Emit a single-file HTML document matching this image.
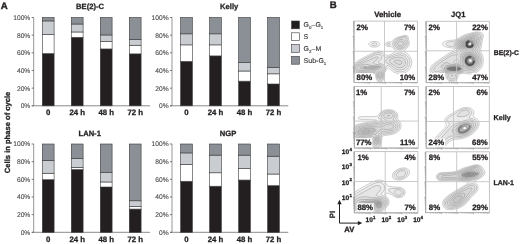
<!DOCTYPE html>
<html><head><meta charset="utf-8"><style>
html,body{margin:0;padding:0;background:#fff;width:520px;height:244px;overflow:hidden}
svg{display:block;will-change:transform}
text{font-family:"Liberation Sans", sans-serif;text-rendering:geometricPrecision}
</style></head><body>
<svg width="520" height="244" viewBox="0 0 520 244">
<defs>
<filter id="bl" x="-50%" y="-50%" width="200%" height="200%"><feGaussianBlur stdDeviation="1.2"/></filter>
<filter id="bl2" x="-50%" y="-50%" width="200%" height="200%"><feGaussianBlur stdDeviation="0.6"/></filter>
<filter id="bl1" x="-50%" y="-50%" width="200%" height="200%"><feGaussianBlur stdDeviation="0.35"/></filter>
</defs>
<line x1="33.7" y1="17.5" x2="33.7" y2="105.8" stroke="#8a8a8a" stroke-width="0.9"/>
<line x1="31.700000000000003" y1="105.8" x2="150.0" y2="105.8" stroke="#8a8a8a" stroke-width="1"/>
<line x1="31.700000000000003" y1="105.80" x2="33.7" y2="105.80" stroke="#666" stroke-width="0.9"/>
<text x="30.300000000000004" y="108.2" font-size="6.7" font-weight="normal" text-anchor="end" fill="#444" stroke="#444" stroke-width="0.1">0%</text>
<line x1="31.700000000000003" y1="88.14" x2="33.7" y2="88.14" stroke="#666" stroke-width="0.9"/>
<text x="30.300000000000004" y="90.54" font-size="6.7" font-weight="normal" text-anchor="end" fill="#444" stroke="#444" stroke-width="0.1">20%</text>
<line x1="31.700000000000003" y1="70.48" x2="33.7" y2="70.48" stroke="#666" stroke-width="0.9"/>
<text x="30.300000000000004" y="72.88" font-size="6.7" font-weight="normal" text-anchor="end" fill="#444" stroke="#444" stroke-width="0.1">40%</text>
<line x1="31.700000000000003" y1="52.82" x2="33.7" y2="52.82" stroke="#666" stroke-width="0.9"/>
<text x="30.300000000000004" y="55.22" font-size="6.7" font-weight="normal" text-anchor="end" fill="#444" stroke="#444" stroke-width="0.1">60%</text>
<line x1="31.700000000000003" y1="35.16" x2="33.7" y2="35.16" stroke="#666" stroke-width="0.9"/>
<text x="30.300000000000004" y="37.559999999999995" font-size="6.7" font-weight="normal" text-anchor="end" fill="#444" stroke="#444" stroke-width="0.1">80%</text>
<line x1="31.700000000000003" y1="17.50" x2="33.7" y2="17.50" stroke="#666" stroke-width="0.9"/>
<text x="30.300000000000004" y="19.9" font-size="6.7" font-weight="normal" text-anchor="end" fill="#444" stroke="#444" stroke-width="0.1">100%</text>
<text x="90.0" y="9.0" font-size="7.6" font-weight="bold" text-anchor="middle" fill="#231f20" stroke="#231f20" stroke-width="0.28" >BE(2)-C</text>
<rect x="42.300000000000004" y="53.53" width="11.8" height="52.27" fill="#231f20" stroke="#3a3a3a" stroke-width="0.6"/>
<rect x="42.300000000000004" y="34.54" width="11.8" height="18.98" fill="#ffffff" stroke="#3a3a3a" stroke-width="0.6"/>
<rect x="42.300000000000004" y="20.94" width="11.8" height="13.60" fill="#c9cdd1" stroke="#3a3a3a" stroke-width="0.6"/>
<rect x="42.300000000000004" y="17.50" width="11.8" height="3.44" fill="#8b9096" stroke="#3a3a3a" stroke-width="0.6"/>
<text x="48.2" y="115.1" font-size="7.8" font-weight="bold" text-anchor="middle" fill="#231f20" stroke="#231f20" stroke-width="0.28" >0</text>
<rect x="71.30000000000001" y="37.28" width="11.8" height="68.52" fill="#231f20" stroke="#3a3a3a" stroke-width="0.6"/>
<rect x="71.30000000000001" y="31.98" width="11.8" height="5.30" fill="#ffffff" stroke="#3a3a3a" stroke-width="0.6"/>
<rect x="71.30000000000001" y="24.03" width="11.8" height="7.95" fill="#c9cdd1" stroke="#3a3a3a" stroke-width="0.6"/>
<rect x="71.30000000000001" y="17.50" width="11.8" height="6.53" fill="#8b9096" stroke="#3a3a3a" stroke-width="0.6"/>
<text x="77.20000000000002" y="115.1" font-size="7.8" font-weight="bold" text-anchor="middle" fill="#231f20" stroke="#231f20" stroke-width="0.28" >24 h</text>
<rect x="100.30000000000001" y="48.93" width="11.8" height="56.87" fill="#231f20" stroke="#3a3a3a" stroke-width="0.6"/>
<rect x="100.30000000000001" y="41.52" width="11.8" height="7.42" fill="#ffffff" stroke="#3a3a3a" stroke-width="0.6"/>
<rect x="100.30000000000001" y="34.98" width="11.8" height="6.53" fill="#c9cdd1" stroke="#3a3a3a" stroke-width="0.6"/>
<rect x="100.30000000000001" y="17.50" width="11.8" height="17.48" fill="#8b9096" stroke="#3a3a3a" stroke-width="0.6"/>
<text x="106.20000000000002" y="115.1" font-size="7.8" font-weight="bold" text-anchor="middle" fill="#231f20" stroke="#231f20" stroke-width="0.28" >48 h</text>
<rect x="129.3" y="53.88" width="11.8" height="51.92" fill="#231f20" stroke="#3a3a3a" stroke-width="0.6"/>
<rect x="129.3" y="45.23" width="11.8" height="8.65" fill="#ffffff" stroke="#3a3a3a" stroke-width="0.6"/>
<rect x="129.3" y="39.31" width="11.8" height="5.92" fill="#c9cdd1" stroke="#3a3a3a" stroke-width="0.6"/>
<rect x="129.3" y="17.50" width="11.8" height="21.81" fill="#8b9096" stroke="#3a3a3a" stroke-width="0.6"/>
<text x="135.20000000000002" y="115.1" font-size="7.8" font-weight="bold" text-anchor="middle" fill="#231f20" stroke="#231f20" stroke-width="0.28" >72 h</text>
<line x1="172.0" y1="17.5" x2="172.0" y2="105.8" stroke="#8a8a8a" stroke-width="0.9"/>
<line x1="170.0" y1="105.8" x2="288.3" y2="105.8" stroke="#8a8a8a" stroke-width="1"/>
<line x1="170.0" y1="105.80" x2="172.0" y2="105.80" stroke="#666" stroke-width="0.9"/>
<text x="168.6" y="108.2" font-size="6.7" font-weight="normal" text-anchor="end" fill="#444" stroke="#444" stroke-width="0.1">0%</text>
<line x1="170.0" y1="88.14" x2="172.0" y2="88.14" stroke="#666" stroke-width="0.9"/>
<text x="168.6" y="90.54" font-size="6.7" font-weight="normal" text-anchor="end" fill="#444" stroke="#444" stroke-width="0.1">20%</text>
<line x1="170.0" y1="70.48" x2="172.0" y2="70.48" stroke="#666" stroke-width="0.9"/>
<text x="168.6" y="72.88" font-size="6.7" font-weight="normal" text-anchor="end" fill="#444" stroke="#444" stroke-width="0.1">40%</text>
<line x1="170.0" y1="52.82" x2="172.0" y2="52.82" stroke="#666" stroke-width="0.9"/>
<text x="168.6" y="55.22" font-size="6.7" font-weight="normal" text-anchor="end" fill="#444" stroke="#444" stroke-width="0.1">60%</text>
<line x1="170.0" y1="35.16" x2="172.0" y2="35.16" stroke="#666" stroke-width="0.9"/>
<text x="168.6" y="37.559999999999995" font-size="6.7" font-weight="normal" text-anchor="end" fill="#444" stroke="#444" stroke-width="0.1">80%</text>
<line x1="170.0" y1="17.50" x2="172.0" y2="17.50" stroke="#666" stroke-width="0.9"/>
<text x="168.6" y="19.9" font-size="6.7" font-weight="normal" text-anchor="end" fill="#444" stroke="#444" stroke-width="0.1">100%</text>
<text x="229.2" y="9.0" font-size="7.6" font-weight="bold" text-anchor="middle" fill="#231f20" stroke="#231f20" stroke-width="0.28" >Kelly</text>
<rect x="180.6" y="61.39" width="11.8" height="44.41" fill="#231f20" stroke="#3a3a3a" stroke-width="0.6"/>
<rect x="180.6" y="44.87" width="11.8" height="16.51" fill="#ffffff" stroke="#3a3a3a" stroke-width="0.6"/>
<rect x="180.6" y="33.84" width="11.8" height="11.04" fill="#c9cdd1" stroke="#3a3a3a" stroke-width="0.6"/>
<rect x="180.6" y="17.50" width="11.8" height="16.34" fill="#8b9096" stroke="#3a3a3a" stroke-width="0.6"/>
<text x="186.5" y="115.1" font-size="7.8" font-weight="bold" text-anchor="middle" fill="#231f20" stroke="#231f20" stroke-width="0.28" >0</text>
<rect x="209.6" y="55.91" width="11.8" height="49.89" fill="#231f20" stroke="#3a3a3a" stroke-width="0.6"/>
<rect x="209.6" y="44.87" width="11.8" height="11.04" fill="#ffffff" stroke="#3a3a3a" stroke-width="0.6"/>
<rect x="209.6" y="33.84" width="11.8" height="11.04" fill="#c9cdd1" stroke="#3a3a3a" stroke-width="0.6"/>
<rect x="209.6" y="17.50" width="11.8" height="16.34" fill="#8b9096" stroke="#3a3a3a" stroke-width="0.6"/>
<text x="215.5" y="115.1" font-size="7.8" font-weight="bold" text-anchor="middle" fill="#231f20" stroke="#231f20" stroke-width="0.28" >24 h</text>
<rect x="238.6" y="81.16" width="11.8" height="24.64" fill="#231f20" stroke="#3a3a3a" stroke-width="0.6"/>
<rect x="238.6" y="71.01" width="11.8" height="10.15" fill="#ffffff" stroke="#3a3a3a" stroke-width="0.6"/>
<rect x="238.6" y="62.53" width="11.8" height="8.48" fill="#c9cdd1" stroke="#3a3a3a" stroke-width="0.6"/>
<rect x="238.6" y="17.50" width="11.8" height="45.03" fill="#8b9096" stroke="#3a3a3a" stroke-width="0.6"/>
<text x="244.5" y="115.1" font-size="7.8" font-weight="bold" text-anchor="middle" fill="#231f20" stroke="#231f20" stroke-width="0.28" >48 h</text>
<rect x="267.6" y="83.99" width="11.8" height="21.81" fill="#231f20" stroke="#3a3a3a" stroke-width="0.6"/>
<rect x="267.6" y="73.84" width="11.8" height="10.15" fill="#ffffff" stroke="#3a3a3a" stroke-width="0.6"/>
<rect x="267.6" y="67.39" width="11.8" height="6.45" fill="#c9cdd1" stroke="#3a3a3a" stroke-width="0.6"/>
<rect x="267.6" y="17.50" width="11.8" height="49.89" fill="#8b9096" stroke="#3a3a3a" stroke-width="0.6"/>
<text x="273.5" y="115.1" font-size="7.8" font-weight="bold" text-anchor="middle" fill="#231f20" stroke="#231f20" stroke-width="0.28" >72 h</text>
<line x1="33.7" y1="144.0" x2="33.7" y2="232.3" stroke="#8a8a8a" stroke-width="0.9"/>
<line x1="31.700000000000003" y1="232.3" x2="150.0" y2="232.3" stroke="#8a8a8a" stroke-width="1"/>
<line x1="31.700000000000003" y1="232.30" x2="33.7" y2="232.30" stroke="#666" stroke-width="0.9"/>
<text x="30.300000000000004" y="234.70000000000002" font-size="6.7" font-weight="normal" text-anchor="end" fill="#444" stroke="#444" stroke-width="0.1">0%</text>
<line x1="31.700000000000003" y1="214.64" x2="33.7" y2="214.64" stroke="#666" stroke-width="0.9"/>
<text x="30.300000000000004" y="217.04000000000002" font-size="6.7" font-weight="normal" text-anchor="end" fill="#444" stroke="#444" stroke-width="0.1">20%</text>
<line x1="31.700000000000003" y1="196.98" x2="33.7" y2="196.98" stroke="#666" stroke-width="0.9"/>
<text x="30.300000000000004" y="199.38000000000002" font-size="6.7" font-weight="normal" text-anchor="end" fill="#444" stroke="#444" stroke-width="0.1">40%</text>
<line x1="31.700000000000003" y1="179.32" x2="33.7" y2="179.32" stroke="#666" stroke-width="0.9"/>
<text x="30.300000000000004" y="181.72" font-size="6.7" font-weight="normal" text-anchor="end" fill="#444" stroke="#444" stroke-width="0.1">60%</text>
<line x1="31.700000000000003" y1="161.66" x2="33.7" y2="161.66" stroke="#666" stroke-width="0.9"/>
<text x="30.300000000000004" y="164.06" font-size="6.7" font-weight="normal" text-anchor="end" fill="#444" stroke="#444" stroke-width="0.1">80%</text>
<line x1="31.700000000000003" y1="144.00" x2="33.7" y2="144.00" stroke="#666" stroke-width="0.9"/>
<text x="30.300000000000004" y="146.4" font-size="6.7" font-weight="normal" text-anchor="end" fill="#444" stroke="#444" stroke-width="0.1">100%</text>
<text x="89.7" y="136.2" font-size="7.6" font-weight="bold" text-anchor="middle" fill="#231f20" stroke="#231f20" stroke-width="0.28" >LAN-1</text>
<rect x="42.300000000000004" y="179.67" width="11.8" height="52.63" fill="#231f20" stroke="#3a3a3a" stroke-width="0.6"/>
<rect x="42.300000000000004" y="173.23" width="11.8" height="6.45" fill="#ffffff" stroke="#3a3a3a" stroke-width="0.6"/>
<rect x="42.300000000000004" y="160.34" width="11.8" height="12.89" fill="#c9cdd1" stroke="#3a3a3a" stroke-width="0.6"/>
<rect x="42.300000000000004" y="144.00" width="11.8" height="16.34" fill="#8b9096" stroke="#3a3a3a" stroke-width="0.6"/>
<text x="48.2" y="241.60000000000002" font-size="7.8" font-weight="bold" text-anchor="middle" fill="#231f20" stroke="#231f20" stroke-width="0.28" >0</text>
<rect x="71.30000000000001" y="169.52" width="11.8" height="62.78" fill="#231f20" stroke="#3a3a3a" stroke-width="0.6"/>
<rect x="71.30000000000001" y="167.31" width="11.8" height="2.21" fill="#ffffff" stroke="#3a3a3a" stroke-width="0.6"/>
<rect x="71.30000000000001" y="158.48" width="11.8" height="8.83" fill="#c9cdd1" stroke="#3a3a3a" stroke-width="0.6"/>
<rect x="71.30000000000001" y="144.00" width="11.8" height="14.48" fill="#8b9096" stroke="#3a3a3a" stroke-width="0.6"/>
<text x="77.20000000000002" y="241.60000000000002" font-size="7.8" font-weight="bold" text-anchor="middle" fill="#231f20" stroke="#231f20" stroke-width="0.28" >24 h</text>
<rect x="100.30000000000001" y="187.00" width="11.8" height="45.30" fill="#231f20" stroke="#3a3a3a" stroke-width="0.6"/>
<rect x="100.30000000000001" y="181.97" width="11.8" height="5.03" fill="#ffffff" stroke="#3a3a3a" stroke-width="0.6"/>
<rect x="100.30000000000001" y="172.70" width="11.8" height="9.27" fill="#c9cdd1" stroke="#3a3a3a" stroke-width="0.6"/>
<rect x="100.30000000000001" y="144.00" width="11.8" height="28.70" fill="#8b9096" stroke="#3a3a3a" stroke-width="0.6"/>
<text x="106.20000000000002" y="241.60000000000002" font-size="7.8" font-weight="bold" text-anchor="middle" fill="#231f20" stroke="#231f20" stroke-width="0.28" >48 h</text>
<rect x="129.3" y="209.08" width="11.8" height="23.22" fill="#231f20" stroke="#3a3a3a" stroke-width="0.6"/>
<rect x="129.3" y="206.43" width="11.8" height="2.65" fill="#ffffff" stroke="#3a3a3a" stroke-width="0.6"/>
<rect x="129.3" y="200.78" width="11.8" height="5.65" fill="#c9cdd1" stroke="#3a3a3a" stroke-width="0.6"/>
<rect x="129.3" y="144.00" width="11.8" height="56.78" fill="#8b9096" stroke="#3a3a3a" stroke-width="0.6"/>
<text x="135.20000000000002" y="241.60000000000002" font-size="7.8" font-weight="bold" text-anchor="middle" fill="#231f20" stroke="#231f20" stroke-width="0.28" >72 h</text>
<line x1="172.0" y1="144.0" x2="172.0" y2="232.3" stroke="#8a8a8a" stroke-width="0.9"/>
<line x1="170.0" y1="232.3" x2="288.3" y2="232.3" stroke="#8a8a8a" stroke-width="1"/>
<line x1="170.0" y1="232.30" x2="172.0" y2="232.30" stroke="#666" stroke-width="0.9"/>
<text x="168.6" y="234.70000000000002" font-size="6.7" font-weight="normal" text-anchor="end" fill="#444" stroke="#444" stroke-width="0.1">0%</text>
<line x1="170.0" y1="214.64" x2="172.0" y2="214.64" stroke="#666" stroke-width="0.9"/>
<text x="168.6" y="217.04000000000002" font-size="6.7" font-weight="normal" text-anchor="end" fill="#444" stroke="#444" stroke-width="0.1">20%</text>
<line x1="170.0" y1="196.98" x2="172.0" y2="196.98" stroke="#666" stroke-width="0.9"/>
<text x="168.6" y="199.38000000000002" font-size="6.7" font-weight="normal" text-anchor="end" fill="#444" stroke="#444" stroke-width="0.1">40%</text>
<line x1="170.0" y1="179.32" x2="172.0" y2="179.32" stroke="#666" stroke-width="0.9"/>
<text x="168.6" y="181.72" font-size="6.7" font-weight="normal" text-anchor="end" fill="#444" stroke="#444" stroke-width="0.1">60%</text>
<line x1="170.0" y1="161.66" x2="172.0" y2="161.66" stroke="#666" stroke-width="0.9"/>
<text x="168.6" y="164.06" font-size="6.7" font-weight="normal" text-anchor="end" fill="#444" stroke="#444" stroke-width="0.1">80%</text>
<line x1="170.0" y1="144.00" x2="172.0" y2="144.00" stroke="#666" stroke-width="0.9"/>
<text x="168.6" y="146.4" font-size="6.7" font-weight="normal" text-anchor="end" fill="#444" stroke="#444" stroke-width="0.1">100%</text>
<text x="228.0" y="136.2" font-size="7.6" font-weight="bold" text-anchor="middle" fill="#231f20" stroke="#231f20" stroke-width="0.28" >NGP</text>
<rect x="180.6" y="181.26" width="11.8" height="51.04" fill="#231f20" stroke="#3a3a3a" stroke-width="0.6"/>
<rect x="180.6" y="164.40" width="11.8" height="16.87" fill="#ffffff" stroke="#3a3a3a" stroke-width="0.6"/>
<rect x="180.6" y="152.92" width="11.8" height="11.48" fill="#c9cdd1" stroke="#3a3a3a" stroke-width="0.6"/>
<rect x="180.6" y="144.00" width="11.8" height="8.92" fill="#8b9096" stroke="#3a3a3a" stroke-width="0.6"/>
<text x="186.5" y="241.60000000000002" font-size="7.8" font-weight="bold" text-anchor="middle" fill="#231f20" stroke="#231f20" stroke-width="0.28" >0</text>
<rect x="209.6" y="186.21" width="11.8" height="46.09" fill="#231f20" stroke="#3a3a3a" stroke-width="0.6"/>
<rect x="209.6" y="172.79" width="11.8" height="13.42" fill="#ffffff" stroke="#3a3a3a" stroke-width="0.6"/>
<rect x="209.6" y="155.13" width="11.8" height="17.66" fill="#c9cdd1" stroke="#3a3a3a" stroke-width="0.6"/>
<rect x="209.6" y="144.00" width="11.8" height="11.13" fill="#8b9096" stroke="#3a3a3a" stroke-width="0.6"/>
<text x="215.5" y="241.60000000000002" font-size="7.8" font-weight="bold" text-anchor="middle" fill="#231f20" stroke="#231f20" stroke-width="0.28" >24 h</text>
<rect x="238.6" y="180.03" width="11.8" height="52.27" fill="#231f20" stroke="#3a3a3a" stroke-width="0.6"/>
<rect x="238.6" y="168.64" width="11.8" height="11.39" fill="#ffffff" stroke="#3a3a3a" stroke-width="0.6"/>
<rect x="238.6" y="155.13" width="11.8" height="13.51" fill="#c9cdd1" stroke="#3a3a3a" stroke-width="0.6"/>
<rect x="238.6" y="144.00" width="11.8" height="11.13" fill="#8b9096" stroke="#3a3a3a" stroke-width="0.6"/>
<text x="244.5" y="241.60000000000002" font-size="7.8" font-weight="bold" text-anchor="middle" fill="#231f20" stroke="#231f20" stroke-width="0.28" >48 h</text>
<rect x="267.6" y="185.68" width="11.8" height="46.62" fill="#231f20" stroke="#3a3a3a" stroke-width="0.6"/>
<rect x="267.6" y="174.02" width="11.8" height="11.66" fill="#ffffff" stroke="#3a3a3a" stroke-width="0.6"/>
<rect x="267.6" y="156.19" width="11.8" height="17.84" fill="#c9cdd1" stroke="#3a3a3a" stroke-width="0.6"/>
<rect x="267.6" y="144.00" width="11.8" height="12.19" fill="#8b9096" stroke="#3a3a3a" stroke-width="0.6"/>
<text x="273.5" y="241.60000000000002" font-size="7.8" font-weight="bold" text-anchor="middle" fill="#231f20" stroke="#231f20" stroke-width="0.28" >72 h</text>
<rect x="291.6" y="21.0" width="7.8" height="7.8" fill="#231f20" stroke="#3a3a3a" stroke-width="0.6"/>
<text x="303.6" y="27.3" font-size="7.0" font-weight="normal" text-anchor="start" fill="#333" stroke="#333" stroke-width="0.12">G<tspan font-size="4.4" dy="2.1">0</tspan><tspan dy="-2.1">–G</tspan><tspan font-size="4.4" dy="2.1">1</tspan></text>
<rect x="291.6" y="32.8" width="7.8" height="7.8" fill="#ffffff" stroke="#3a3a3a" stroke-width="0.6"/>
<text x="303.6" y="39.099999999999994" font-size="7.0" font-weight="normal" text-anchor="start" fill="#333" stroke="#333" stroke-width="0.12">S</text>
<rect x="291.6" y="44.6" width="7.8" height="7.8" fill="#c9cdd1" stroke="#3a3a3a" stroke-width="0.6"/>
<text x="303.6" y="50.9" font-size="7.0" font-weight="normal" text-anchor="start" fill="#333" stroke="#333" stroke-width="0.12">G<tspan font-size="4.4" dy="2.1">2</tspan><tspan dy="-2.1">–M</tspan></text>
<rect x="291.6" y="56.400000000000006" width="7.8" height="7.8" fill="#8b9096" stroke="#3a3a3a" stroke-width="0.6"/>
<text x="303.6" y="62.7" font-size="7.0" font-weight="normal" text-anchor="start" fill="#333" stroke="#333" stroke-width="0.12">Sub-G<tspan font-size="4.4" dy="2.1">1</tspan></text>
<text x="0.7" y="9.0" font-size="9.6" font-weight="bold" text-anchor="start" fill="#231f20" stroke="#231f20" stroke-width="0.4" >A</text>
<text x="329.8" y="8.4" font-size="9.6" font-weight="bold" text-anchor="start" fill="#231f20" stroke="#231f20" stroke-width="0.4" >B</text>
<text x="0" y="0" font-size="7.6" font-weight="bold" text-anchor="middle" fill="#231f20" stroke="#231f20" stroke-width="0.28" transform="translate(9.8,132.4) rotate(-90)">Cells in phase of cycle</text>
<text x="387.7" y="17.3" font-size="7.8" font-weight="bold" text-anchor="middle" fill="#231f20" stroke="#231f20" stroke-width="0.28" >Vehicle</text>
<text x="458.2" y="16.9" font-size="7.6" font-weight="bold" text-anchor="middle" fill="#231f20" stroke="#231f20" stroke-width="0.28" >JQ1</text>
<g id="plot0"><path d="M380.5 82.5 379.4 82.5 378.8 82.4 378.0 81.8 377.2 80.8 376.1 78.6 375.3 74.3 374.5 73.6 372.2 73.5 362.0 74.1 359.0 74.1 356.5 73.7 354.2 72.6 354.0 72.4 354.0 70.3 354.0 63.9 357.2 61.2 360.8 59.0 372.8 53.0 376.8 51.4 379.5 51.1 381.8 51.6 383.2 52.5 385.5 54.9 386.5 55.4 388.5 55.3 391.4 54.1 395.0 51.9 395.6 51.1 395.5 50.6 391.8 46.8 391.0 46.6 388.2 46.7 387.2 46.4 386.5 46.0 385.8 45.1 385.7 44.4 385.8 43.6 386.2 42.9 387.0 42.3 388.0 41.9 390.8 42.0 391.5 41.8 394.5 38.8 395.8 38.0 397.5 37.2 404.5 35.5 406.0 35.5 407.3 35.9 407.9 36.4 408.3 37.1 408.5 39.4 409.4 42.1 409.3 44.1 408.9 45.4 408.0 46.9 406.8 48.2 404.5 50.1 404.1 50.6 404.0 51.1 404.4 51.6 407.2 53.6 408.8 54.9 410.0 56.6 411.0 58.6 411.6 60.9 411.7 63.4 411.3 65.6 410.4 67.8 408.5 70.3 406.0 72.2 403.0 73.4 400.0 73.8 397.2 73.5 394.8 72.6 392.5 71.2 389.2 68.3 388.5 68.0 388.0 68.0 387.2 68.8 384.8 72.6 384.1 77.6 383.3 80.1 382.0 81.8 381.2 82.4 380.5 82.5ZM375.5 47.1 372.8 47.1 370.2 46.3 369.0 45.1 368.7 44.4 368.9 43.6 369.5 42.9 370.5 42.2 372.0 41.7 373.5 41.5 375.2 41.5 376.8 41.7 378.0 42.2 379.1 42.9 379.6 43.4 379.9 44.1 379.8 44.9 379.5 45.4 378.0 46.5 375.5 47.1Z" fill="#5a5a5a" fill-opacity="0.06" stroke="#999" stroke-width="0.45"/>
<path d="M401.5 49.6 399.8 49.8 398.2 49.7 396.8 49.2 395.2 48.3 393.9 47.1 392.9 45.6 392.5 44.4 392.7 43.4 393.3 41.9 394.2 40.6 395.2 39.6 396.8 38.6 398.2 38.0 403.5 36.4 405.0 36.2 406.2 36.4 406.9 36.9 407.3 37.6 407.2 39.6 408.1 42.6 407.9 44.6 406.9 46.4 405.5 47.7 403.5 48.9 401.5 49.6ZM375.5 45.6 374.0 45.7 372.5 45.4 371.7 44.9 371.5 44.1 372.2 43.4 373.2 43.0 374.8 42.9 376.0 43.1 376.8 43.6 377.1 44.4 376.7 45.1 375.5 45.6ZM389.2 45.4 388.2 45.4 387.5 45.0 387.2 44.4 387.5 43.6 388.0 43.2 388.8 43.1 390.0 43.6 390.3 44.1 390.3 44.6 389.9 45.1 389.2 45.4ZM380.0 81.4 379.2 81.2 378.5 80.8 377.4 79.3 376.6 77.3 376.1 73.8 375.8 73.2 375.2 72.8 374.2 72.6 372.8 72.6 359.8 73.2 357.2 73.0 355.2 72.2 354.0 71.1 354.0 65.4 356.2 63.3 361.0 60.3 373.5 54.0 375.5 53.2 377.5 52.6 379.8 52.6 381.8 53.3 383.0 54.5 384.5 56.9 385.2 57.3 386.8 57.1 389.6 56.4 396.5 53.5 399.5 52.9 401.5 53.0 403.8 53.7 405.8 54.8 407.3 56.1 408.5 57.6 409.3 59.4 409.8 61.1 409.9 62.9 409.6 64.6 409.0 66.3 408.2 67.8 406.8 69.3 405.0 70.7 402.8 71.6 400.5 72.0 398.0 71.8 396.0 71.2 394.2 70.2 390.7 67.1 389.5 66.3 388.0 65.7 387.0 65.6 386.5 66.1 385.7 69.1 383.9 72.1 383.5 76.6 382.9 78.8 382.2 80.0 381.5 80.8 380.8 81.2 380.0 81.4Z" fill="#5a5a5a" fill-opacity="0.05" stroke="#888" stroke-width="0.45"/>
<path d="M401.2 48.4 399.8 48.5 398.2 48.3 396.8 47.7 395.8 47.1 394.9 46.1 394.4 45.1 394.2 43.9 394.4 42.6 395.6 40.9 397.5 39.4 403.5 37.3 404.5 37.2 405.2 37.3 405.9 37.9 405.8 39.9 406.7 42.4 406.8 43.4 406.6 44.4 405.7 45.9 404.5 47.0 403.0 47.8 401.2 48.4ZM380.2 79.9 379.0 79.6 378.0 78.3 377.3 76.6 376.9 73.1 376.5 72.3 376.0 72.0 375.0 71.7 373.2 71.7 360.8 72.4 357.5 72.1 355.5 71.1 354.4 69.8 354.0 68.3 354.5 66.6 355.8 65.0 358.2 63.3 373.5 55.6 375.8 54.7 377.5 54.3 379.0 54.2 380.2 54.6 381.0 55.2 381.6 56.1 381.8 56.9 381.7 57.9 381.0 59.4 378.5 61.9 378.3 62.6 378.9 63.1 382.0 64.0 383.5 64.7 384.5 65.8 384.8 67.3 384.5 68.8 383.0 71.8 382.8 75.6 382.4 77.6 381.5 79.1 381.0 79.6 380.2 79.9ZM401.5 69.9 399.8 70.0 398.2 69.8 396.8 69.4 395.2 68.6 391.5 65.6 387.8 63.6 386.7 62.9 386.1 62.1 385.8 61.4 385.8 60.6 386.1 59.9 386.8 59.1 388.2 58.3 395.5 55.8 397.8 55.1 399.5 54.9 401.2 55.0 403.0 55.5 404.5 56.3 406.2 57.9 407.3 59.9 407.8 61.9 407.7 64.1 406.9 66.1 405.5 67.9 403.8 69.1 401.5 69.9Z" fill="#5a5a5a" fill-opacity="0.05" stroke="#888" stroke-width="0.45"/>
<path d="M401.2 47.1 399.0 47.2 397.1 46.4 396.3 45.6 395.9 44.9 395.7 44.1 395.8 43.1 396.6 41.6 398.2 40.4 400.5 39.6 403.0 39.3 403.8 39.9 405.0 41.9 405.3 42.9 405.2 43.9 404.6 45.1 403.8 46.0 402.5 46.8 401.2 47.1ZM380.2 78.1 379.8 78.1 379.2 77.8 378.6 76.8 378.2 75.3 378.1 72.3 377.7 71.6 377.0 71.0 375.8 70.7 374.2 70.6 361.8 71.4 358.5 71.2 356.8 70.6 355.8 69.7 355.3 68.3 355.6 67.1 356.0 66.3 357.0 65.4 359.8 63.9 367.2 60.9 375.0 57.4 376.8 56.9 377.8 57.0 378.2 57.6 378.0 58.6 377.0 59.6 374.0 61.9 373.4 62.6 373.4 63.1 374.1 63.9 375.2 64.2 381.2 65.1 382.5 65.8 383.2 66.6 383.4 67.3 383.3 68.3 382.0 70.8 381.7 71.8 381.8 74.8 381.6 76.3 381.0 77.6 380.2 78.1ZM401.2 67.6 399.0 67.7 397.8 67.4 396.5 66.8 389.8 62.4 389.1 61.4 389.1 60.6 389.9 59.9 391.5 59.0 394.2 58.0 396.8 57.4 400.0 57.1 401.5 57.4 402.8 57.9 404.0 58.9 405.0 60.3 405.4 61.9 405.4 63.4 404.9 64.8 404.0 66.1 402.8 67.1 401.2 67.6Z" fill="#5a5a5a" fill-opacity="0.05" stroke="#888" stroke-width="0.45"/>
<path d="M401.5 45.6 400.5 45.8 399.5 45.8 398.8 45.5 398.0 45.0 397.6 44.4 397.5 43.6 397.7 42.9 398.3 42.1 399.5 41.4 400.8 41.1 402.0 41.3 403.0 42.0 403.5 43.1 403.3 44.1 402.5 45.1 401.5 45.6ZM400.5 64.4 399.8 64.6 398.8 64.5 396.8 63.7 394.8 62.3 394.3 61.6 394.3 61.1 395.3 60.4 397.0 60.0 399.0 60.0 400.5 60.4 401.5 61.2 402.0 62.4 401.6 63.6 400.5 64.4ZM361.8 70.4 359.5 70.3 358.0 69.8 357.0 68.8 356.9 68.3 357.0 67.6 357.8 66.5 359.2 65.6 361.5 64.8 363.8 64.3 366.5 64.3 372.8 65.8 379.8 66.3 381.0 66.8 381.5 67.6 381.5 68.3 381.1 69.1 380.5 69.7 379.8 70.1 376.8 69.4 374.8 69.3 361.8 70.4Z" fill="#5a5a5a" fill-opacity="0.05" stroke="#888" stroke-width="0.45"/>
<path d="M363.8 68.6 362.0 68.8 360.8 68.7 359.9 68.3 359.7 67.8 360.5 67.1 362.5 66.5 364.5 66.6 365.4 66.8 366.1 67.3 366.0 67.8 365.6 68.1 363.8 68.6Z" fill="#5a5a5a" fill-opacity="0.05" stroke="#888" stroke-width="0.45"/>
<ellipse cx="372" cy="67.5" rx="9" ry="1.8" transform="rotate(-3 372 67.5)" fill="#8a8a8a" fill-opacity="0.55" stroke="none" stroke-width="0.45" filter="url(#bl2)"/>
<ellipse cx="380" cy="75" rx="2.5" ry="4" transform="rotate(0 380 75)" fill="#aaa" fill-opacity="0.5" stroke="none" stroke-width="0.45" filter="url(#bl2)"/></g>
<rect x="354" y="21.1" width="63.39999999999998" height="61.4" fill="none" stroke="#bdbdbd" stroke-width="0.9"/>
<line x1="354" y1="21.1" x2="354" y2="82.5" stroke="#a5a5a5" stroke-width="0.9"/>
<line x1="354" y1="82.5" x2="417.4" y2="82.5" stroke="#b0b0b0" stroke-width="0.9"/>
<path d="M353.0 77.88H354.0M358.77 82.5V83.5M353.0 75.18H354.0M361.56 82.5V83.5M353.0 73.26H354.0M363.54 82.5V83.5M353.0 71.77H354.0M365.08 82.5V83.5M353.0 70.56H354.0M366.33 82.5V83.5M353.0 69.53H354.0M367.39 82.5V83.5M353.0 68.64H354.0M368.31 82.5V83.5M353.0 67.85H354.0M369.12 82.5V83.5M352.4 67.15H354.0M369.85 82.5V84.1M353.0 62.53H354.0M374.62 82.5V83.5M353.0 59.83H354.0M377.41 82.5V83.5M353.0 57.91H354.0M379.39 82.5V83.5M353.0 56.42H354.0M380.93 82.5V83.5M353.0 55.21H354.0M382.18 82.5V83.5M353.0 54.18H354.0M383.24 82.5V83.5M353.0 53.29H354.0M384.16 82.5V83.5M353.0 52.50H354.0M384.97 82.5V83.5M352.4 51.80H354.0M385.70 82.5V84.1M353.0 47.18H354.0M390.47 82.5V83.5M353.0 44.48H354.0M393.26 82.5V83.5M353.0 42.56H354.0M395.24 82.5V83.5M353.0 41.07H354.0M396.78 82.5V83.5M353.0 39.86H354.0M398.03 82.5V83.5M353.0 38.83H354.0M399.09 82.5V83.5M353.0 37.94H354.0M400.01 82.5V83.5M353.0 37.15H354.0M400.82 82.5V83.5M352.4 36.45H354.0M401.55 82.5V84.1M353.0 31.83H354.0M406.32 82.5V83.5M353.0 29.13H354.0M409.11 82.5V83.5M353.0 27.21H354.0M411.09 82.5V83.5M353.0 25.72H354.0M412.63 82.5V83.5M353.0 24.51H354.0M413.88 82.5V83.5M353.0 23.48H354.0M414.94 82.5V83.5M353.0 22.59H354.0M415.86 82.5V83.5M353.0 21.80H354.0M416.67 82.5V83.5" stroke="#9a9a9a" stroke-width="0.6"/>
<line x1="384.5" y1="21.1" x2="384.5" y2="82.5" stroke="#c4c4c4" stroke-width="0.9"/>
<line x1="354" y1="51.3" x2="417.4" y2="51.3" stroke="#c4c4c4" stroke-width="0.9"/>
<rect x="355.8" y="22.9" width="12.8" height="8.2" fill="#fff"/>
<rect x="403.3" y="22.9" width="12.8" height="8.2" fill="#fff"/>
<rect x="355.8" y="73.0" width="17.2" height="8.2" fill="#fff"/>
<rect x="398.9" y="73.0" width="17.2" height="8.2" fill="#fff"/>
<text x="356.6" y="29.5" font-size="7.8" font-weight="bold" text-anchor="start" fill="#231f20" stroke="#231f20" stroke-width="0.28" >2%</text>
<text x="415.3" y="29.5" font-size="7.8" font-weight="bold" text-anchor="end" fill="#231f20" stroke="#231f20" stroke-width="0.28" >7%</text>
<text x="356.6" y="79.6" font-size="7.8" font-weight="bold" text-anchor="start" fill="#231f20" stroke="#231f20" stroke-width="0.28" >80%</text>
<text x="415.3" y="79.6" font-size="7.8" font-weight="bold" text-anchor="end" fill="#231f20" stroke="#231f20" stroke-width="0.28" >10%</text>
<g id="plot1"><path d="M453.4 81.8 452.2 82.0 450.7 81.9 449.4 81.4 448.2 80.6 447.4 79.8 446.6 78.5 445.4 75.0 444.7 74.3 443.7 73.8 442.7 73.5 441.9 73.6 437.4 75.3 435.9 75.5 434.4 75.4 432.9 74.9 431.7 74.1 430.8 73.0 430.1 71.5 430.0 69.5 430.5 67.5 431.6 65.8 433.4 63.9 436.7 61.5 447.9 53.9 450.9 52.2 454.4 50.8 454.9 50.3 454.9 49.8 454.5 49.3 452.9 48.3 451.7 47.9 447.2 47.3 444.2 46.2 443.2 45.5 442.7 44.8 442.5 43.8 442.8 43.0 444.1 41.8 446.4 40.9 449.2 40.4 453.7 40.1 455.7 39.6 458.9 38.0 463.4 35.3 466.9 34.0 474.2 32.2 476.4 31.8 479.2 31.9 481.3 32.5 482.2 33.2 482.9 34.0 483.3 35.0 483.4 36.0 483.2 37.5 482.1 41.0 481.7 45.5 480.6 49.8 480.8 51.3 482.8 56.0 483.3 59.5 483.3 61.5 483.1 63.5 482.6 65.3 481.7 67.3 480.3 69.3 478.4 71.1 476.4 72.5 474.2 73.5 471.9 74.0 469.7 74.1 463.7 73.2 460.6 73.8 459.1 74.3 458.4 75.0 457.7 77.8 456.8 79.5 455.4 80.9 453.4 81.8Z" fill="#5a5a5a" fill-opacity="0.06" stroke="#999" stroke-width="0.45"/>
<path d="M453.2 80.6 452.2 80.7 450.9 80.6 449.9 80.3 448.9 79.6 448.2 78.8 447.6 77.8 447.0 75.3 446.6 74.5 445.7 73.8 443.4 72.6 442.4 72.2 441.4 72.2 437.7 73.7 436.4 73.9 435.2 73.9 433.9 73.5 432.9 72.9 432.2 72.0 431.7 70.8 431.7 69.0 432.4 67.3 433.8 65.5 435.9 63.7 449.7 54.4 452.7 53.1 456.9 52.2 457.7 51.8 458.1 51.3 458.2 50.8 457.9 50.3 453.7 47.1 452.4 46.6 448.9 46.1 447.2 45.5 446.0 44.5 445.8 44.0 445.9 43.5 446.7 42.7 448.2 42.1 449.9 41.8 453.2 41.5 454.7 41.1 459.6 38.8 464.2 36.2 467.4 35.0 473.2 33.4 475.7 32.9 478.2 32.8 480.2 33.4 481.4 34.6 481.8 35.3 482.0 36.3 481.8 37.8 480.8 41.3 480.3 45.5 478.9 50.0 479.2 51.5 481.1 55.8 481.8 59.3 481.9 61.3 481.6 63.0 481.1 64.8 480.3 66.5 479.2 68.3 477.4 70.0 475.7 71.2 473.4 72.1 471.7 72.5 469.7 72.6 464.4 71.9 457.8 73.8 457.1 74.5 456.6 77.3 455.9 78.6 454.7 79.9 453.2 80.6Z" fill="#5a5a5a" fill-opacity="0.075" stroke="#888" stroke-width="0.45"/>
<path d="M452.9 79.1 451.4 79.2 450.0 78.5 449.0 77.3 448.5 74.8 448.0 74.0 442.2 70.7 440.9 70.6 438.2 71.6 436.9 71.9 435.9 71.8 434.9 71.5 434.2 70.8 433.9 70.0 433.9 69.0 434.4 67.8 435.5 66.3 437.4 64.7 449.4 56.5 451.2 55.6 452.9 55.0 457.4 54.7 458.4 54.1 460.0 52.5 460.8 51.3 460.9 50.8 460.6 50.3 456.3 47.8 454.8 46.3 453.9 44.8 453.8 44.0 454.0 43.5 455.6 42.0 457.4 40.9 464.4 37.3 467.9 36.0 473.2 34.4 475.4 33.9 477.4 33.9 479.2 34.5 479.9 35.0 480.3 35.8 480.5 37.5 479.4 41.2 478.9 45.5 477.3 49.3 477.1 50.3 477.4 51.5 479.5 55.5 480.3 58.8 480.4 60.8 480.1 62.8 479.6 64.5 478.9 66.0 477.8 67.5 476.4 68.9 474.9 69.9 473.2 70.6 471.4 71.0 469.7 71.1 465.7 70.5 464.7 70.5 461.2 72.0 456.3 73.3 455.7 73.8 455.4 74.3 455.2 76.3 454.8 77.5 454.0 78.5 452.9 79.1ZM456.9 63.3 458.4 62.8 458.9 62.0 458.9 61.3 458.5 60.3 457.9 59.7 457.4 59.5 456.4 59.8 455.2 60.6 453.9 61.8 453.5 62.5 453.8 63.0 454.5 63.3 456.9 63.3Z" fill="#5a5a5a" fill-opacity="0.075" stroke="#888" stroke-width="0.45"/>
<path d="M451.9 74.1 446.4 72.2 444.9 71.4 443.6 70.0 442.2 67.9 441.2 66.8 441.1 66.3 441.8 65.3 443.3 64.0 444.9 63.0 446.7 62.4 447.4 62.5 448.3 63.3 449.2 63.8 452.4 64.4 455.2 64.4 458.2 64.2 459.9 63.8 460.7 63.3 460.9 62.0 460.2 57.5 460.3 55.8 461.1 54.0 463.1 51.3 463.3 50.3 462.4 49.4 458.4 48.0 456.8 46.8 456.1 45.8 455.8 45.0 455.8 44.0 456.1 43.3 457.1 42.3 458.4 41.4 467.7 37.2 474.4 35.2 476.4 35.1 477.9 35.6 478.7 36.4 478.9 37.5 478.1 41.3 477.7 44.5 477.1 46.3 475.3 49.3 475.0 50.3 475.3 51.5 477.8 55.3 478.4 56.8 478.7 58.5 478.9 60.5 478.7 62.5 478.1 64.3 477.3 65.8 476.2 67.0 475.2 67.9 472.7 69.2 471.2 69.5 469.7 69.6 468.2 69.4 465.7 68.8 464.7 68.8 460.9 71.2 459.4 71.7 455.2 72.5 453.8 73.0 451.9 74.1ZM452.2 76.2 451.7 76.2 451.5 75.8 451.7 75.0 451.9 74.9 452.5 75.5 452.2 76.2Z" fill="#5a5a5a" fill-opacity="0.075" stroke="#888" stroke-width="0.45"/>
<path d="M452.2 72.1 450.4 72.1 448.4 71.9 446.9 71.5 445.9 71.0 445.0 70.0 444.5 69.0 444.4 68.0 444.7 67.0 445.9 65.9 448.2 65.4 459.2 65.1 463.0 65.5 463.1 64.5 462.1 58.3 462.2 55.8 462.6 54.8 463.2 53.8 465.9 51.3 466.4 50.5 466.2 49.8 465.1 49.0 459.7 47.4 458.2 46.6 457.5 45.8 457.2 45.0 457.2 44.3 457.5 43.5 458.5 42.5 459.9 41.7 468.4 38.1 473.9 36.6 475.4 36.6 476.4 36.9 476.9 37.5 477.1 38.5 476.1 45.0 475.0 47.0 472.6 49.5 472.2 50.3 472.6 51.3 474.7 53.4 475.8 54.8 477.0 57.5 477.4 59.5 477.3 61.5 476.9 63.3 475.9 65.0 474.8 66.3 473.4 67.2 471.9 67.8 470.4 68.1 468.9 68.0 467.7 67.7 463.4 66.0 462.5 68.8 461.7 69.7 460.7 70.4 458.4 71.1 452.2 72.1Z" fill="#5a5a5a" fill-opacity="0.075" stroke="#888" stroke-width="0.45"/>
<path d="M470.2 48.3 467.7 48.2 460.7 46.6 459.7 46.2 459.0 45.5 458.7 45.0 458.7 44.3 459.4 43.3 460.4 42.6 465.2 40.5 471.2 38.5 472.9 38.3 474.2 38.4 474.9 39.0 475.1 40.0 475.0 43.3 474.5 45.0 473.7 46.3 472.7 47.3 471.4 48.0 470.2 48.3ZM470.2 66.6 468.9 66.5 467.7 66.1 466.7 65.5 465.7 64.7 465.0 63.8 464.4 62.5 463.8 59.5 463.7 56.8 464.0 55.8 464.5 54.8 465.2 53.9 466.2 53.2 467.4 52.6 468.7 52.4 469.9 52.4 471.2 52.8 472.4 53.4 473.5 54.3 474.4 55.3 475.1 56.5 475.8 59.3 475.9 60.8 475.7 62.0 475.2 63.3 474.6 64.3 473.7 65.2 472.7 65.9 471.4 66.4 470.2 66.6ZM452.7 71.1 449.4 71.1 447.2 70.6 446.3 70.0 445.8 69.3 445.7 68.5 445.9 67.8 446.9 66.8 448.4 66.4 457.2 65.9 459.9 66.2 460.7 66.5 461.3 67.3 461.4 68.0 461.1 68.8 460.4 69.5 459.7 69.9 457.7 70.5 452.7 71.1Z" fill="#5a5a5a" fill-opacity="0.075" stroke="#888" stroke-width="0.45"/>
<path d="M469.9 46.8 466.9 46.8 462.7 46.1 460.9 45.3 460.6 44.8 460.6 44.3 460.9 43.7 461.8 43.0 464.7 41.7 469.7 40.2 471.2 40.1 472.2 40.2 472.9 40.7 473.3 41.5 473.5 43.0 473.2 44.3 472.7 45.2 471.9 46.0 470.9 46.5 469.9 46.8ZM471.2 64.8 469.4 65.0 467.7 64.3 466.4 63.0 465.6 61.3 465.2 58.8 465.4 56.5 466.4 55.0 467.9 54.2 469.9 54.1 471.7 54.7 473.1 56.0 474.1 58.0 474.4 60.3 474.0 62.3 472.9 63.8 471.2 64.8ZM453.9 70.1 450.7 70.3 448.7 70.1 447.5 69.5 447.1 69.0 447.1 68.5 447.3 68.0 448.0 67.5 450.7 67.1 457.9 66.8 459.2 67.1 459.9 67.8 459.7 68.6 458.7 69.3 457.2 69.7 453.9 70.1Z" fill="#5a5a5a" fill-opacity="0.075" stroke="#888" stroke-width="0.45"/>
<path d="M469.2 45.6 466.9 45.7 464.7 45.5 463.3 45.0 462.9 44.7 462.8 44.3 463.0 43.8 463.6 43.3 465.4 42.5 468.9 41.7 470.7 41.8 471.2 42.1 471.6 42.8 471.5 44.0 470.6 45.0 469.2 45.6ZM470.4 63.3 469.2 63.3 468.2 62.7 467.4 61.8 466.9 60.5 466.7 58.8 466.9 57.3 467.5 56.3 468.7 55.6 469.9 55.6 471.2 56.2 472.2 57.3 472.8 58.8 472.9 60.3 472.5 61.8 471.7 62.8 470.4 63.3ZM452.2 69.1 450.4 69.1 449.6 68.8 449.9 68.4 451.2 68.2 455.7 68.1 456.7 68.3 456.2 68.6 452.2 69.1Z" fill="#5a5a5a" fill-opacity="0.075" stroke="#888" stroke-width="0.45"/>
<path d="M467.4 44.3 466.2 44.4 465.7 44.0 466.5 43.5 468.4 43.5 468.5 43.8 468.3 44.0 467.4 44.3ZM470.4 61.6 469.7 61.7 469.2 61.5 468.7 61.0 468.3 60.3 468.2 58.5 468.6 57.8 469.2 57.4 469.7 57.3 470.4 57.6 470.9 58.1 471.4 59.0 471.4 60.5 470.9 61.3 470.4 61.6Z" fill="#5a5a5a" fill-opacity="0.075" stroke="#888" stroke-width="0.45"/>
<ellipse cx="469.6" cy="44.2" rx="4.2" ry="4.0" transform="rotate(0 469.6 44.2)" fill="#777" fill-opacity="0.3" stroke="none" stroke-width="0.45" filter="url(#bl)"/>
<ellipse cx="469.6" cy="44.2" rx="3.0" ry="2.8" transform="rotate(0 469.6 44.2)" fill="none" fill-opacity="1" stroke="#888" stroke-width="1.26" filter="url(#bl2)"/>
<ellipse cx="469.6" cy="44.2" rx="3.0" ry="2.8" transform="rotate(0 469.6 44.2)" fill="none" fill-opacity="1" stroke="#4a4a4a" stroke-width="2.1" stroke-dasharray="13.12 5.10" filter="url(#bl2)"/>
<ellipse cx="470.0" cy="44.0" rx="1.1" ry="0.9900000000000001" transform="rotate(0 470.0 44.0)" fill="#fff" fill-opacity="0.9" stroke="none" stroke-width="0.45" filter="url(#bl1)"/>
<ellipse cx="470" cy="60.8" rx="5.2" ry="5.2" transform="rotate(0 470 60.8)" fill="#777" fill-opacity="0.3" stroke="none" stroke-width="0.45" filter="url(#bl)"/>
<ellipse cx="470" cy="60.8" rx="4.0" ry="4.0" transform="rotate(0 470 60.8)" fill="none" fill-opacity="1" stroke="#888" stroke-width="1.38" filter="url(#bl2)"/>
<ellipse cx="470" cy="60.8" rx="4.0" ry="4.0" transform="rotate(0 470 60.8)" fill="none" fill-opacity="1" stroke="#555" stroke-width="2.3" stroke-dasharray="19.60 5.53" filter="url(#bl2)"/>
<ellipse cx="470.4" cy="60.599999999999994" rx="1.5" ry="1.35" transform="rotate(0 470.4 60.599999999999994)" fill="#fff" fill-opacity="0.9" stroke="none" stroke-width="0.45" filter="url(#bl1)"/>
<ellipse cx="454" cy="68.8" rx="7.5" ry="2.2" transform="rotate(0 454 68.8)" fill="#666" fill-opacity="0.75" stroke="none" stroke-width="0.45" filter="url(#bl2)"/></g>
<rect x="426.2" y="21.3" width="63.10000000000002" height="61.3" fill="none" stroke="#bdbdbd" stroke-width="0.9"/>
<line x1="426.2" y1="21.3" x2="426.2" y2="82.6" stroke="#a5a5a5" stroke-width="0.9"/>
<line x1="426.2" y1="82.6" x2="489.3" y2="82.6" stroke="#b0b0b0" stroke-width="0.9"/>
<path d="M425.2 77.99H426.2M430.95 82.6V83.6M425.2 75.29H426.2M433.73 82.6V83.6M425.2 73.37H426.2M435.70 82.6V83.6M425.2 71.89H426.2M437.23 82.6V83.6M425.2 70.67H426.2M438.48 82.6V83.6M425.2 69.65H426.2M439.53 82.6V83.6M425.2 68.76H426.2M440.45 82.6V83.6M425.2 67.98H426.2M441.25 82.6V83.6M424.6 67.27H426.2M441.98 82.6V84.2M425.2 62.66H426.2M446.72 82.6V83.6M425.2 59.96H426.2M449.50 82.6V83.6M425.2 58.05H426.2M451.47 82.6V83.6M425.2 56.56H426.2M453.00 82.6V83.6M425.2 55.35H426.2M454.25 82.6V83.6M425.2 54.32H426.2M455.31 82.6V83.6M425.2 53.44H426.2M456.22 82.6V83.6M425.2 52.65H426.2M457.03 82.6V83.6M424.6 51.95H426.2M457.75 82.6V84.2M425.2 47.34H426.2M462.50 82.6V83.6M425.2 44.64H426.2M465.28 82.6V83.6M425.2 42.72H426.2M467.25 82.6V83.6M425.2 41.24H426.2M468.78 82.6V83.6M425.2 40.02H426.2M470.03 82.6V83.6M425.2 39.00H426.2M471.08 82.6V83.6M425.2 38.11H426.2M472.00 82.6V83.6M425.2 37.33H426.2M472.80 82.6V83.6M424.6 36.62H426.2M473.52 82.6V84.2M425.2 32.01H426.2M478.27 82.6V83.6M425.2 29.31H426.2M481.05 82.6V83.6M425.2 27.40H426.2M483.02 82.6V83.6M425.2 25.91H426.2M484.55 82.6V83.6M425.2 24.70H426.2M485.80 82.6V83.6M425.2 23.67H426.2M486.86 82.6V83.6M425.2 22.79H426.2M487.77 82.6V83.6M425.2 22.00H426.2M488.58 82.6V83.6" stroke="#9a9a9a" stroke-width="0.6"/>
<line x1="456.6" y1="21.3" x2="456.6" y2="82.6" stroke="#c4c4c4" stroke-width="0.9"/>
<line x1="426.2" y1="50.8" x2="489.3" y2="50.8" stroke="#c4c4c4" stroke-width="0.9"/>
<rect x="427.8" y="23.0" width="12.8" height="8.2" fill="#fff"/>
<rect x="471.5" y="23.0" width="17.2" height="8.2" fill="#fff"/>
<rect x="427.8" y="73.0" width="17.2" height="8.2" fill="#fff"/>
<rect x="471.5" y="73.0" width="17.2" height="8.2" fill="#fff"/>
<text x="428.6" y="29.6" font-size="7.8" font-weight="bold" text-anchor="start" fill="#231f20" stroke="#231f20" stroke-width="0.28" >2%</text>
<text x="487.9" y="29.6" font-size="7.8" font-weight="bold" text-anchor="end" fill="#231f20" stroke="#231f20" stroke-width="0.28" >22%</text>
<text x="428.6" y="79.6" font-size="7.8" font-weight="bold" text-anchor="start" fill="#231f20" stroke="#231f20" stroke-width="0.28" >28%</text>
<text x="487.9" y="79.6" font-size="7.8" font-weight="bold" text-anchor="end" fill="#231f20" stroke="#231f20" stroke-width="0.28" >47%</text>
<g id="plot2"><path d="M378.8 148.0 374.2 148.0 373.3 147.0 372.6 145.8 371.1 141.2 370.3 140.5 369.1 140.5 364.6 141.1 360.6 141.4 357.3 141.4 354.3 140.9 354.3 133.2 354.3 125.6 357.6 124.4 361.3 123.4 366.3 122.4 374.0 121.2 376.1 120.8 376.5 120.5 376.3 120.2 375.4 120.0 373.1 119.8 359.6 119.3 358.6 118.9 358.0 118.2 358.2 117.5 359.1 116.9 360.8 116.6 373.3 116.6 376.3 116.4 377.6 116.0 378.2 115.5 379.7 113.0 380.8 111.9 382.1 111.1 383.8 110.3 386.1 109.8 388.6 109.6 391.1 109.8 393.3 110.4 394.8 111.1 396.0 112.0 396.9 113.0 397.5 114.0 397.8 115.5 397.6 118.2 397.7 119.0 400.1 122.2 401.0 124.2 401.1 126.0 400.7 128.0 400.0 129.5 398.7 131.0 397.1 132.4 395.3 133.3 392.1 134.5 384.6 135.5 383.3 135.9 382.6 136.3 382.1 136.9 381.8 137.8 381.4 142.0 380.7 144.8 380.0 146.5 378.8 148.0Z" fill="#5a5a5a" fill-opacity="0.06" stroke="#999" stroke-width="0.45"/>
<path d="M377.1 147.5 376.1 147.6 375.3 147.3 373.9 146.0 372.9 144.0 371.8 140.0 371.0 139.2 369.8 139.2 364.8 140.0 360.6 140.2 357.3 140.1 354.3 139.5 354.3 133.2 354.3 127.0 358.1 125.4 363.1 124.1 368.6 123.2 377.6 122.2 381.1 121.3 381.9 120.8 382.1 120.2 382.0 120.0 381.2 119.5 378.7 118.5 378.2 118.0 378.4 117.5 379.6 116.1 380.7 113.8 381.8 112.6 384.3 111.3 387.3 110.7 390.6 110.8 393.3 111.6 395.1 112.8 395.7 113.5 396.2 114.5 396.4 116.2 395.8 119.2 396.2 120.0 398.3 122.2 399.2 123.8 399.6 125.8 399.1 128.0 398.4 129.2 397.3 130.5 395.8 131.6 394.1 132.5 390.3 133.6 383.6 134.4 382.5 134.8 381.7 135.2 381.1 136.0 380.9 136.8 380.6 141.5 380.0 144.2 379.4 145.5 378.7 146.5 377.8 147.2 377.1 147.5Z" fill="#5a5a5a" fill-opacity="0.05" stroke="#888" stroke-width="0.45"/>
<path d="M376.6 146.0 375.3 145.6 374.1 144.2 373.5 142.5 372.7 139.0 372.3 138.3 371.8 137.9 370.6 137.8 364.8 138.8 360.6 139.0 357.1 138.8 354.3 138.0 354.3 133.2 354.3 128.5 357.6 126.8 362.6 125.4 368.3 124.3 379.1 123.3 381.6 122.7 384.4 121.8 385.9 121.0 386.4 120.5 386.4 120.2 385.9 119.8 382.5 118.0 381.6 117.2 381.4 116.5 381.4 115.8 381.7 114.8 382.2 114.0 384.1 112.7 386.8 111.8 389.8 111.8 392.6 112.5 394.2 113.8 394.7 114.5 395.0 115.5 394.7 117.0 393.2 119.2 393.2 120.0 396.2 122.2 397.4 123.8 397.8 124.8 397.9 125.8 397.5 127.8 396.7 129.0 395.7 130.0 394.3 130.9 392.8 131.6 389.8 132.4 383.3 133.1 381.8 133.5 380.8 134.1 380.1 135.0 379.8 136.0 379.8 140.5 379.3 143.2 378.7 144.5 378.1 145.3 377.3 145.8 376.6 146.0Z" fill="#5a5a5a" fill-opacity="0.05" stroke="#888" stroke-width="0.45"/>
<path d="M390.1 118.3 387.6 118.3 385.0 117.5 384.2 117.0 383.6 116.2 383.5 115.8 383.7 115.0 384.3 114.2 385.0 113.8 387.1 113.1 389.6 113.0 391.6 113.6 392.3 114.1 392.9 114.8 393.2 115.5 393.1 116.2 392.7 117.0 392.1 117.5 390.1 118.3ZM377.1 144.1 376.3 144.2 375.8 144.0 374.8 142.9 374.2 141.2 373.7 137.5 373.3 136.8 372.8 136.4 371.3 136.3 365.8 137.4 361.3 137.8 357.6 137.4 355.0 136.5 354.3 136.0 354.3 130.4 356.0 129.0 358.3 127.8 361.6 126.8 365.6 125.9 370.1 125.3 379.8 124.7 382.3 124.1 387.6 122.4 389.8 122.0 392.6 122.2 393.8 122.7 394.8 123.3 395.9 124.8 396.1 125.5 396.0 126.5 395.3 128.1 393.8 129.5 392.1 130.4 390.1 130.9 383.8 131.4 382.1 131.7 380.6 132.3 379.3 133.3 378.7 134.2 378.5 135.2 378.9 139.2 378.7 141.5 378.1 143.1 377.1 144.1Z" fill="#5a5a5a" fill-opacity="0.05" stroke="#888" stroke-width="0.45"/>
<path d="M389.1 116.0 387.9 116.0 387.6 115.8 387.5 115.5 388.1 115.2 389.1 115.2 389.4 115.5 389.4 115.8 389.1 116.0ZM365.3 136.3 360.8 136.4 358.8 136.2 357.3 135.7 356.1 135.0 355.5 134.2 355.2 133.2 355.4 132.0 356.6 130.5 358.8 129.1 362.1 127.9 365.8 127.1 371.8 126.6 379.3 126.9 380.8 126.9 382.3 126.4 386.8 124.4 389.8 123.8 391.1 123.8 392.3 124.2 393.2 124.8 393.6 125.5 393.7 126.5 393.2 127.5 392.3 128.3 391.1 129.0 388.2 129.5 383.1 129.2 381.6 129.4 380.6 129.8 379.3 130.6 376.3 133.8 375.6 134.3 372.6 134.6 368.1 135.8 365.3 136.3ZM376.6 141.5 376.1 141.3 375.8 141.0 375.5 139.8 375.8 138.0 376.3 137.4 376.8 137.7 377.1 138.1 377.4 139.5 377.2 140.8 377.0 141.2 376.6 141.5Z" fill="#5a5a5a" fill-opacity="0.05" stroke="#888" stroke-width="0.45"/>
<path d="M364.1 135.0 361.1 134.9 359.1 134.3 358.3 133.8 357.9 133.2 357.8 132.8 358.0 132.0 359.1 130.8 360.8 129.8 363.3 129.0 366.3 128.3 369.3 128.1 372.1 128.2 374.2 128.8 375.1 129.5 375.2 130.2 374.9 131.0 374.1 131.8 372.9 132.5 368.5 134.2 366.3 134.7 364.1 135.0Z" fill="#5a5a5a" fill-opacity="0.05" stroke="#888" stroke-width="0.45"/>
<path d="M366.3 133.0 364.6 133.2 363.1 133.0 362.1 132.5 362.0 132.0 362.4 131.5 363.1 131.0 365.6 130.2 368.1 130.0 369.1 130.2 369.7 130.5 369.9 131.0 369.3 131.8 368.0 132.5 366.3 133.0Z" fill="#5a5a5a" fill-opacity="0.05" stroke="#888" stroke-width="0.45"/>
<ellipse cx="366" cy="131.5" rx="11" ry="3.6" transform="rotate(-8 366 131.5)" fill="#a0a0a0" fill-opacity="0.45" stroke="none" stroke-width="0.45" filter="url(#bl)"/>
<ellipse cx="376.5" cy="140" rx="2.6" ry="5" transform="rotate(0 376.5 140)" fill="#aaa" fill-opacity="0.5" stroke="none" stroke-width="0.45" filter="url(#bl2)"/></g>
<rect x="354.3" y="86.5" width="64.0" height="61.5" fill="none" stroke="#bdbdbd" stroke-width="0.9"/>
<line x1="354.3" y1="86.5" x2="354.3" y2="148" stroke="#a5a5a5" stroke-width="0.9"/>
<line x1="354.3" y1="148" x2="418.3" y2="148" stroke="#b0b0b0" stroke-width="0.9"/>
<path d="M353.3 143.37H354.3M359.12 148.0V149.0M353.3 140.66H354.3M361.93 148.0V149.0M353.3 138.74H354.3M363.93 148.0V149.0M353.3 137.25H354.3M365.48 148.0V149.0M353.3 136.04H354.3M366.75 148.0V149.0M353.3 135.01H354.3M367.82 148.0V149.0M353.3 134.11H354.3M368.75 148.0V149.0M353.3 133.33H354.3M369.57 148.0V149.0M352.7 132.62H354.3M370.30 148.0V149.6M353.3 128.00H354.3M375.12 148.0V149.0M353.3 125.29H354.3M377.93 148.0V149.0M353.3 123.37H354.3M379.93 148.0V149.0M353.3 121.88H354.3M381.48 148.0V149.0M353.3 120.66H354.3M382.75 148.0V149.0M353.3 119.63H354.3M383.82 148.0V149.0M353.3 118.74H354.3M384.75 148.0V149.0M353.3 117.95H354.3M385.57 148.0V149.0M352.7 117.25H354.3M386.30 148.0V149.6M353.3 112.62H354.3M391.12 148.0V149.0M353.3 109.91H354.3M393.93 148.0V149.0M353.3 107.99H354.3M395.93 148.0V149.0M353.3 106.50H354.3M397.48 148.0V149.0M353.3 105.29H354.3M398.75 148.0V149.0M353.3 104.26H354.3M399.82 148.0V149.0M353.3 103.36H354.3M400.75 148.0V149.0M353.3 102.58H354.3M401.57 148.0V149.0M352.7 101.88H354.3M402.30 148.0V149.6M353.3 97.25H354.3M407.12 148.0V149.0M353.3 94.54H354.3M409.93 148.0V149.0M353.3 92.62H354.3M411.93 148.0V149.0M353.3 91.13H354.3M413.48 148.0V149.0M353.3 89.91H354.3M414.75 148.0V149.0M353.3 88.88H354.3M415.82 148.0V149.0M353.3 87.99H354.3M416.75 148.0V149.0M353.3 87.20H354.3M417.57 148.0V149.0" stroke="#9a9a9a" stroke-width="0.6"/>
<line x1="381.2" y1="86.5" x2="381.2" y2="148" stroke="#c4c4c4" stroke-width="0.9"/>
<line x1="354.3" y1="121.1" x2="418.3" y2="121.1" stroke="#c4c4c4" stroke-width="0.9"/>
<rect x="355.1" y="88.5" width="12.8" height="8.2" fill="#fff"/>
<rect x="403.2" y="88.5" width="12.8" height="8.2" fill="#fff"/>
<rect x="355.1" y="138.2" width="17.2" height="8.2" fill="#fff"/>
<rect x="398.8" y="138.2" width="17.2" height="8.2" fill="#fff"/>
<text x="355.9" y="95.1" font-size="7.8" font-weight="bold" text-anchor="start" fill="#231f20" stroke="#231f20" stroke-width="0.28" >1%</text>
<text x="415.2" y="95.1" font-size="7.8" font-weight="bold" text-anchor="end" fill="#231f20" stroke="#231f20" stroke-width="0.28" >7%</text>
<text x="355.9" y="144.8" font-size="7.8" font-weight="bold" text-anchor="start" fill="#231f20" stroke="#231f20" stroke-width="0.28" >77%</text>
<text x="415.2" y="144.8" font-size="7.8" font-weight="bold" text-anchor="end" fill="#231f20" stroke="#231f20" stroke-width="0.28" >11%</text>
<g id="plot3"><path d="M440.9 147.8 439.4 148.0 438.2 147.8 436.9 147.4 435.7 146.5 434.8 145.5 434.3 144.2 434.0 143.0 434.1 141.5 434.8 139.2 436.4 136.8 438.6 134.2 444.5 128.2 446.0 126.2 446.3 125.5 446.3 124.8 445.1 122.0 444.8 120.5 445.1 119.0 446.0 117.5 447.2 116.4 448.7 115.4 454.0 112.5 459.4 109.2 462.4 107.9 465.2 107.4 467.9 107.5 470.4 108.2 472.4 109.3 473.5 110.5 474.0 112.0 473.9 113.2 473.1 115.8 473.3 116.5 473.8 117.0 476.7 118.6 477.7 119.5 478.6 120.8 479.1 122.2 479.2 124.0 478.7 126.0 477.8 128.0 476.4 130.0 474.7 131.9 472.7 133.6 470.4 135.2 468.2 136.4 465.4 137.7 462.2 138.6 459.2 139.1 454.2 139.5 452.4 140.0 449.9 141.5 444.4 146.2 442.7 147.2 440.9 147.8Z" fill="#5a5a5a" fill-opacity="0.06" stroke="#999" stroke-width="0.45"/>
<path d="M440.4 145.8 439.4 145.8 438.4 145.6 437.0 144.5 436.5 143.8 436.2 142.8 436.4 140.8 437.1 139.0 438.5 137.0 446.9 128.1 449.1 125.2 449.4 124.5 449.3 123.8 447.5 121.8 447.0 120.8 447.1 119.5 447.8 118.2 449.4 116.8 454.7 113.9 459.4 110.6 462.4 109.2 464.7 108.7 466.9 108.7 469.2 109.3 470.8 110.2 471.4 111.0 471.8 111.8 471.8 113.2 471.0 114.8 469.1 117.0 468.9 117.5 469.7 118.0 473.4 118.9 475.2 119.8 476.7 121.2 477.4 123.0 477.4 124.8 476.9 126.5 476.0 128.2 474.6 130.2 472.7 132.1 470.4 133.9 467.9 135.3 464.9 136.6 460.7 137.7 458.4 137.9 453.7 137.9 451.3 138.5 449.2 139.8 443.7 144.5 441.9 145.4 440.4 145.8Z" fill="#5a5a5a" fill-opacity="0.06" stroke="#888" stroke-width="0.45"/>
<path d="M463.7 116.5 461.2 116.7 458.4 116.6 457.4 116.3 457.2 115.8 457.9 114.5 459.4 112.8 461.0 111.5 462.7 110.6 464.4 110.1 465.9 110.1 467.6 110.5 468.7 111.2 469.3 112.0 469.4 112.8 469.1 113.8 468.5 114.5 466.4 115.8 463.7 116.5ZM441.4 142.3 440.7 142.3 440.2 142.0 439.7 141.2 439.9 140.0 440.7 138.5 450.5 127.5 452.2 125.8 453.7 124.8 455.2 124.1 463.9 120.8 466.2 120.2 467.9 119.9 470.4 119.9 472.4 120.4 474.1 121.2 475.1 122.5 475.6 123.8 475.6 125.0 475.3 126.5 474.6 128.0 473.3 129.8 471.9 131.2 468.4 133.8 464.9 135.4 461.2 136.4 458.2 136.5 452.9 135.9 450.7 136.2 448.2 137.5 443.2 141.5 441.4 142.3Z" fill="#5a5a5a" fill-opacity="0.06" stroke="#888" stroke-width="0.45"/>
<path d="M461.7 135.0 459.4 135.1 457.2 134.8 455.0 134.0 453.0 132.8 452.3 131.8 452.2 130.8 452.6 129.5 453.5 128.2 455.0 126.8 457.3 125.2 461.4 123.2 464.7 121.9 466.9 121.4 469.2 121.3 471.2 121.7 472.6 122.5 473.3 123.2 473.6 124.0 473.7 125.8 473.0 127.8 471.6 129.8 469.7 131.6 467.2 133.2 464.4 134.4 461.7 135.0Z" fill="#5a5a5a" fill-opacity="0.06" stroke="#888" stroke-width="0.45"/>
<path d="M462.9 133.5 461.2 133.7 459.4 133.6 457.9 133.1 456.9 132.4 456.2 131.5 455.9 130.5 456.2 129.2 456.9 128.0 458.1 126.8 460.2 125.2 462.4 124.1 464.7 123.2 466.7 122.8 468.4 122.8 469.9 123.1 470.9 123.7 471.7 124.8 471.8 126.2 471.3 127.8 470.3 129.2 468.8 130.8 466.9 132.0 464.9 132.9 462.9 133.5Z" fill="#5a5a5a" fill-opacity="0.06" stroke="#888" stroke-width="0.45"/>
<path d="M463.4 132.0 460.9 132.1 459.9 131.8 459.2 131.2 458.8 130.5 458.7 129.8 458.8 129.0 459.4 128.0 461.4 126.1 464.2 124.8 466.9 124.3 468.2 124.5 468.9 124.8 469.5 125.5 469.8 126.5 469.6 127.5 468.8 128.8 467.9 129.8 466.4 130.8 464.9 131.5 463.4 132.0Z" fill="#5a5a5a" fill-opacity="0.06" stroke="#888" stroke-width="0.45"/>
<path d="M463.4 130.3 462.2 130.1 461.6 129.5 461.6 128.8 462.2 127.8 463.4 126.8 464.7 126.3 465.9 126.2 466.9 126.5 467.2 127.0 467.2 127.5 466.5 128.8 465.2 129.8 463.4 130.3Z" fill="#5a5a5a" fill-opacity="0.06" stroke="#888" stroke-width="0.45"/>
<ellipse cx="464.3" cy="128.4" rx="7.2" ry="4.5" transform="rotate(-28 464.3 128.4)" fill="#777" fill-opacity="0.2" stroke="none" stroke-width="0.45" filter="url(#bl)"/>
<ellipse cx="464.3" cy="128.4" rx="6.0" ry="3.3" transform="rotate(-28 464.3 128.4)" fill="none" fill-opacity="1" stroke="#888" stroke-width="1.02" filter="url(#bl2)"/>
<ellipse cx="464.3" cy="128.4" rx="6.0" ry="3.3" transform="rotate(-28 464.3 128.4)" fill="none" fill-opacity="1" stroke="#747474" stroke-width="1.7" stroke-dasharray="20.89 8.95" filter="url(#bl2)"/>
<ellipse cx="464.7" cy="128.20000000000002" rx="1.3" ry="1.1700000000000002" transform="rotate(0 464.7 128.20000000000002)" fill="#fff" fill-opacity="0.9" stroke="none" stroke-width="0.45" filter="url(#bl1)"/></g>
<rect x="426.2" y="86.5" width="63.10000000000002" height="61.69999999999999" fill="none" stroke="#bdbdbd" stroke-width="0.9"/>
<line x1="426.2" y1="86.5" x2="426.2" y2="148.2" stroke="#a5a5a5" stroke-width="0.9"/>
<line x1="426.2" y1="148.2" x2="489.3" y2="148.2" stroke="#b0b0b0" stroke-width="0.9"/>
<path d="M425.2 143.56H426.2M430.95 148.2V149.2M425.2 140.84H426.2M433.73 148.2V149.2M425.2 138.91H426.2M435.70 148.2V149.2M425.2 137.42H426.2M437.23 148.2V149.2M425.2 136.20H426.2M438.48 148.2V149.2M425.2 135.16H426.2M439.53 148.2V149.2M425.2 134.27H426.2M440.45 148.2V149.2M425.2 133.48H426.2M441.25 148.2V149.2M424.6 132.77H426.2M441.98 148.2V149.8M425.2 128.13H426.2M446.72 148.2V149.2M425.2 125.42H426.2M449.50 148.2V149.2M425.2 123.49H426.2M451.47 148.2V149.2M425.2 121.99H426.2M453.00 148.2V149.2M425.2 120.77H426.2M454.25 148.2V149.2M425.2 119.74H426.2M455.31 148.2V149.2M425.2 118.84H426.2M456.22 148.2V149.2M425.2 118.06H426.2M457.03 148.2V149.2M424.6 117.35H426.2M457.75 148.2V149.8M425.2 112.71H426.2M462.50 148.2V149.2M425.2 109.99H426.2M465.28 148.2V149.2M425.2 108.06H426.2M467.25 148.2V149.2M425.2 106.57H426.2M468.78 148.2V149.2M425.2 105.35H426.2M470.03 148.2V149.2M425.2 104.31H426.2M471.08 148.2V149.2M425.2 103.42H426.2M472.00 148.2V149.2M425.2 102.63H426.2M472.80 148.2V149.2M424.6 101.92H426.2M473.52 148.2V149.8M425.2 97.28H426.2M478.27 148.2V149.2M425.2 94.57H426.2M481.05 148.2V149.2M425.2 92.64H426.2M483.02 148.2V149.2M425.2 91.14H426.2M484.55 148.2V149.2M425.2 89.92H426.2M485.80 148.2V149.2M425.2 88.89H426.2M486.86 148.2V149.2M425.2 87.99H426.2M487.77 148.2V149.2M425.2 87.21H426.2M488.58 148.2V149.2" stroke="#9a9a9a" stroke-width="0.6"/>
<line x1="453.5" y1="86.5" x2="453.5" y2="148.2" stroke="#c4c4c4" stroke-width="0.9"/>
<line x1="426.2" y1="121.5" x2="489.3" y2="121.5" stroke="#c4c4c4" stroke-width="0.9"/>
<rect x="427.8" y="88.5" width="12.8" height="8.2" fill="#fff"/>
<rect x="475.7" y="88.5" width="12.8" height="8.2" fill="#fff"/>
<rect x="427.8" y="138.6" width="17.2" height="8.2" fill="#fff"/>
<rect x="471.3" y="138.6" width="17.2" height="8.2" fill="#fff"/>
<text x="428.6" y="95.1" font-size="7.8" font-weight="bold" text-anchor="start" fill="#231f20" stroke="#231f20" stroke-width="0.28" >2%</text>
<text x="487.7" y="95.1" font-size="7.8" font-weight="bold" text-anchor="end" fill="#231f20" stroke="#231f20" stroke-width="0.28" >6%</text>
<text x="428.6" y="145.2" font-size="7.8" font-weight="bold" text-anchor="start" fill="#231f20" stroke="#231f20" stroke-width="0.28" >24%</text>
<text x="487.7" y="145.2" font-size="7.8" font-weight="bold" text-anchor="end" fill="#231f20" stroke="#231f20" stroke-width="0.28" >68%</text>
<g id="plot4"><path d="M400.8 179.9 398.6 180.1 396.6 179.9 394.8 179.4 393.6 178.6 392.6 177.3 392.3 176.1 392.5 174.6 393.2 173.1 394.4 171.6 396.1 170.3 398.1 169.2 400.1 168.4 402.3 168.0 404.3 167.9 406.3 168.3 407.8 168.9 409.0 170.1 409.6 171.6 409.5 173.3 408.7 175.1 407.4 176.6 405.6 178.0 403.1 179.2 400.8 179.9ZM379.1 212.8 376.3 212.8 374.8 212.2 372.2 210.8 370.3 210.4 368.3 210.4 359.1 211.1 356.3 210.8 354.3 210.2 354.3 203.1 354.3 192.3 359.6 189.0 371.6 182.3 375.3 180.7 378.6 180.0 381.3 180.2 383.8 181.2 385.4 182.6 387.6 185.5 388.8 186.3 392.6 186.9 398.1 187.2 400.1 187.4 402.3 188.2 404.0 189.3 404.7 190.3 405.2 191.6 405.2 192.8 404.8 194.1 404.1 195.3 403.1 196.3 401.8 197.0 400.3 197.5 398.1 197.7 396.1 197.3 394.6 196.6 391.3 194.5 388.3 193.4 386.6 193.1 385.8 193.3 385.3 193.6 384.8 194.3 385.0 195.1 387.7 198.1 388.8 200.1 389.1 202.1 388.8 204.1 388.2 205.3 387.3 206.6 383.3 210.6 381.1 212.2 379.1 212.8Z" fill="#5a5a5a" fill-opacity="0.06" stroke="#999" stroke-width="0.45"/>
<path d="M400.8 178.6 399.1 178.8 397.6 178.7 396.3 178.3 395.1 177.6 394.4 176.6 394.2 175.6 394.3 174.3 395.0 173.1 396.1 171.9 397.3 170.9 398.8 170.1 400.6 169.5 402.3 169.2 403.8 169.2 405.3 169.5 406.5 170.1 407.4 171.1 407.8 172.1 407.7 173.3 407.0 174.8 406.0 176.1 404.6 177.2 402.8 178.0 400.8 178.6ZM379.3 211.6 377.8 211.8 376.3 211.5 372.6 209.8 370.8 209.4 368.6 209.3 359.1 210.0 356.6 209.7 354.3 208.8 354.3 203.1 354.3 195.0 356.6 193.2 360.3 190.9 369.8 185.5 374.1 183.4 376.3 182.7 378.6 182.3 380.6 182.6 382.3 183.4 383.4 184.3 384.2 185.6 384.7 187.1 384.9 188.6 384.4 189.8 381.7 193.3 381.4 194.1 381.4 194.6 382.1 195.3 385.1 197.2 386.6 198.6 387.7 200.6 387.9 202.6 387.7 203.6 387.1 204.8 385.6 206.8 382.1 210.2 380.8 211.0 379.3 211.6ZM398.6 196.6 396.6 196.3 394.8 195.3 392.1 193.0 389.1 191.1 388.5 190.3 388.6 189.6 389.3 189.1 390.3 188.8 397.6 188.3 400.3 188.6 402.3 189.6 403.3 190.6 403.7 191.6 403.8 192.8 403.4 194.1 402.6 195.1 401.3 196.0 400.1 196.4 398.6 196.6Z" fill="#5a5a5a" fill-opacity="0.05" stroke="#888" stroke-width="0.45"/>
<path d="M401.1 177.1 398.8 177.2 397.8 176.9 397.1 176.5 396.6 175.8 396.4 175.1 396.8 173.6 398.2 172.1 400.3 171.1 402.6 170.7 403.6 170.9 404.6 171.2 405.3 171.8 405.6 172.6 405.6 173.3 405.3 174.3 404.6 175.3 403.6 176.1 402.3 176.7 401.1 177.1ZM379.1 210.4 377.8 210.5 376.6 210.4 372.6 208.6 370.8 208.3 368.6 208.3 359.8 208.9 357.6 208.7 355.6 208.1 354.3 207.3 354.3 203.1 354.3 198.0 356.1 196.5 358.3 195.0 372.8 186.9 374.8 186.1 376.6 185.6 378.1 185.5 379.3 185.9 380.1 186.4 380.6 187.1 380.8 188.1 380.6 189.1 379.6 191.0 376.6 194.1 376.3 194.6 376.3 195.1 376.9 195.6 377.5 195.8 381.8 197.0 384.3 198.2 385.9 199.8 386.4 200.8 386.6 202.1 386.1 204.1 384.6 206.3 381.6 209.2 380.3 210.0 379.1 210.4ZM399.8 195.1 397.8 195.2 396.8 194.9 395.8 194.3 394.9 193.3 394.4 192.3 394.3 191.6 394.6 190.8 395.8 190.1 397.8 189.7 399.6 189.8 401.2 190.6 402.0 191.8 402.0 193.1 401.2 194.3 399.8 195.1Z" fill="#5a5a5a" fill-opacity="0.05" stroke="#888" stroke-width="0.45"/>
<path d="M379.1 209.1 378.1 209.3 376.8 209.2 372.8 207.5 370.8 207.1 368.6 207.1 360.8 207.7 358.8 207.7 357.3 207.3 355.6 206.5 354.3 205.0 354.3 201.3 355.6 199.6 357.3 198.4 359.8 197.4 363.1 196.8 365.8 196.7 371.6 197.7 378.1 197.7 381.3 198.2 383.1 199.0 384.4 200.1 385.1 201.6 385.1 203.1 384.3 204.8 382.8 206.6 380.8 208.3 379.1 209.1Z" fill="#5a5a5a" fill-opacity="0.05" stroke="#888" stroke-width="0.45"/>
<path d="M378.8 207.9 377.8 208.0 376.6 207.8 372.8 206.2 370.8 205.8 368.6 205.8 361.6 206.4 358.8 206.3 357.5 205.8 356.5 205.1 355.9 204.1 355.8 202.8 356.3 201.7 357.3 200.7 358.8 200.0 360.6 199.6 363.6 199.4 370.8 199.7 377.1 198.9 380.1 199.1 381.8 199.8 382.9 200.6 383.5 201.6 383.6 202.8 383.0 204.3 381.9 205.8 380.3 207.2 378.8 207.9Z" fill="#5a5a5a" fill-opacity="0.05" stroke="#888" stroke-width="0.45"/>
<path d="M378.1 206.6 377.1 206.6 376.1 206.2 372.6 204.3 370.8 203.7 368.8 203.6 363.3 204.5 361.1 204.7 359.8 204.5 359.1 204.1 358.7 203.6 358.7 203.1 359.0 202.6 359.6 202.2 361.1 201.7 363.3 201.7 370.1 202.1 371.6 201.8 376.1 200.3 377.6 200.1 379.1 200.2 380.3 200.6 381.3 201.3 381.8 202.1 381.9 203.1 381.4 204.3 380.6 205.4 379.3 206.3 378.1 206.6Z" fill="#5a5a5a" fill-opacity="0.05" stroke="#888" stroke-width="0.45"/>
<path d="M378.6 204.9 377.3 205.0 376.1 204.4 375.4 203.6 375.3 203.1 375.4 202.6 376.3 201.9 377.3 201.6 378.6 201.7 379.4 202.1 379.9 202.8 379.9 203.6 379.4 204.3 378.6 204.9Z" fill="#5a5a5a" fill-opacity="0.05" stroke="#888" stroke-width="0.45"/>
<ellipse cx="371" cy="203" rx="11" ry="3" transform="rotate(-3 371 203)" fill="#909090" fill-opacity="0.55" stroke="none" stroke-width="0.45" filter="url(#bl)"/>
<ellipse cx="379" cy="205" rx="3" ry="3.5" transform="rotate(0 379 205)" fill="#888" fill-opacity="0.4" stroke="none" stroke-width="0.45" filter="url(#bl2)"/></g>
<rect x="354.3" y="151.6" width="63.599999999999966" height="61.20000000000002" fill="none" stroke="#bdbdbd" stroke-width="0.9"/>
<line x1="354.3" y1="151.6" x2="354.3" y2="212.8" stroke="#a5a5a5" stroke-width="0.9"/>
<line x1="354.3" y1="212.8" x2="417.9" y2="212.8" stroke="#b0b0b0" stroke-width="0.9"/>
<path d="M353.3 208.19H354.3M359.09 212.8V213.8M353.3 205.50H354.3M361.89 212.8V213.8M353.3 203.59H354.3M363.87 212.8V213.8M353.3 202.11H354.3M365.41 212.8V213.8M353.3 200.89H354.3M366.67 212.8V213.8M353.3 199.87H354.3M367.74 212.8V213.8M353.3 198.98H354.3M368.66 212.8V213.8M353.3 198.20H354.3M369.47 212.8V213.8M352.7 197.50H354.3M370.20 212.8V214.4M353.3 192.89H354.3M374.99 212.8V213.8M353.3 190.20H354.3M377.79 212.8V213.8M353.3 188.29H354.3M379.77 212.8V213.8M353.3 186.81H354.3M381.31 212.8V213.8M353.3 185.59H354.3M382.57 212.8V213.8M353.3 184.57H354.3M383.64 212.8V213.8M353.3 183.68H354.3M384.56 212.8V213.8M353.3 182.90H354.3M385.37 212.8V213.8M352.7 182.20H354.3M386.10 212.8V214.4M353.3 177.59H354.3M390.89 212.8V213.8M353.3 174.90H354.3M393.69 212.8V213.8M353.3 172.99H354.3M395.67 212.8V213.8M353.3 171.51H354.3M397.21 212.8V213.8M353.3 170.29H354.3M398.47 212.8V213.8M353.3 169.27H354.3M399.54 212.8V213.8M353.3 168.38H354.3M400.46 212.8V213.8M353.3 167.60H354.3M401.27 212.8V213.8M352.7 166.90H354.3M402.00 212.8V214.4M353.3 162.29H354.3M406.79 212.8V213.8M353.3 159.60H354.3M409.59 212.8V213.8M353.3 157.69H354.3M411.57 212.8V213.8M353.3 156.21H354.3M413.11 212.8V213.8M353.3 154.99H354.3M414.37 212.8V213.8M353.3 153.97H354.3M415.44 212.8V213.8M353.3 153.08H354.3M416.36 212.8V213.8M353.3 152.30H354.3M417.17 212.8V213.8" stroke="#9a9a9a" stroke-width="0.6"/>
<line x1="385.2" y1="151.6" x2="385.2" y2="212.8" stroke="#c4c4c4" stroke-width="0.9"/>
<line x1="354.3" y1="181.5" x2="417.9" y2="181.5" stroke="#c4c4c4" stroke-width="0.9"/>
<rect x="356.6" y="153.4" width="12.8" height="8.2" fill="#fff"/>
<rect x="403.7" y="153.4" width="12.8" height="8.2" fill="#fff"/>
<rect x="356.6" y="203.2" width="17.2" height="8.2" fill="#fff"/>
<rect x="403.7" y="203.2" width="12.8" height="8.2" fill="#fff"/>
<text x="357.4" y="160.0" font-size="7.8" font-weight="bold" text-anchor="start" fill="#231f20" stroke="#231f20" stroke-width="0.28" >1%</text>
<text x="415.7" y="160.0" font-size="7.8" font-weight="bold" text-anchor="end" fill="#231f20" stroke="#231f20" stroke-width="0.28" >4%</text>
<text x="357.4" y="209.8" font-size="7.8" font-weight="bold" text-anchor="start" fill="#231f20" stroke="#231f20" stroke-width="0.28" >88%</text>
<text x="415.7" y="209.8" font-size="7.8" font-weight="bold" text-anchor="end" fill="#231f20" stroke="#231f20" stroke-width="0.28" >7%</text>
<g id="plot5"><path d="M451.2 209.8 448.7 209.7 446.7 209.3 444.9 208.3 443.7 207.1 442.8 205.3 442.6 203.6 442.9 201.6 443.7 199.8 445.6 197.6 448.9 195.0 453.9 191.7 466.5 184.3 468.3 183.1 468.8 182.6 468.8 182.3 467.4 181.9 455.4 180.5 451.4 180.4 442.2 180.7 439.7 180.5 437.9 179.8 437.2 179.1 436.7 178.3 436.3 176.6 436.5 175.6 436.9 174.8 437.6 174.1 438.4 173.4 440.7 172.7 451.4 172.1 455.2 171.5 457.3 170.8 463.2 168.2 473.7 165.1 475.7 164.8 477.7 164.8 479.4 165.2 480.7 165.8 481.9 166.8 484.4 170.3 484.9 171.6 484.9 173.1 484.0 175.1 481.9 177.1 479.4 178.7 474.8 180.8 473.8 181.6 474.1 182.1 475.7 183.1 476.8 184.1 477.5 185.1 477.9 186.1 478.2 187.3 478.1 188.8 477.7 190.1 477.0 191.3 475.6 193.1 471.4 196.9 467.0 202.6 463.7 205.4 460.9 207.1 457.9 208.4 454.4 209.4 451.2 209.8Z" fill="#5a5a5a" fill-opacity="0.06" stroke="#999" stroke-width="0.45"/>
<path d="M467.4 180.8 463.9 180.7 454.7 179.6 442.9 179.9 440.7 179.8 439.2 179.4 438.0 178.6 437.4 177.6 437.4 176.3 437.6 175.6 438.2 174.8 438.9 174.2 440.2 173.7 442.4 173.4 452.4 172.8 455.6 172.3 458.0 171.6 463.9 168.9 473.7 165.9 475.7 165.6 477.4 165.6 478.9 166.0 480.2 166.8 480.9 167.6 482.6 170.6 483.2 172.1 483.0 173.8 481.9 175.6 479.4 177.5 475.9 179.2 471.7 180.4 467.4 180.8ZM451.7 208.6 449.2 208.5 447.2 208.0 445.6 207.1 444.5 205.6 444.0 203.8 444.1 202.1 445.0 200.1 446.5 198.3 449.4 195.9 453.4 193.2 468.9 184.4 470.9 183.8 472.7 183.7 474.4 184.2 475.6 185.1 476.4 186.3 476.7 187.6 476.6 189.1 475.9 190.6 474.5 192.3 470.4 196.1 467.1 200.6 465.4 202.6 462.4 204.9 459.2 206.7 455.7 207.9 451.7 208.6Z" fill="#5a5a5a" fill-opacity="0.065" stroke="#888" stroke-width="0.45"/>
<path d="M468.9 179.8 464.7 179.9 457.4 178.9 454.4 178.7 441.4 178.9 440.2 178.6 439.2 178.1 438.7 177.3 438.6 176.6 438.9 175.8 439.3 175.3 440.2 174.8 441.2 174.5 452.4 173.7 456.6 173.1 458.7 172.3 464.4 169.7 473.7 166.7 475.2 166.4 476.7 166.4 477.9 166.7 478.9 167.3 479.7 168.3 481.3 172.1 481.3 173.6 480.5 175.1 478.7 176.7 475.9 178.1 472.7 179.2 468.9 179.8ZM453.9 207.1 451.4 207.3 449.2 207.1 447.6 206.6 446.4 205.6 445.6 204.1 445.5 202.6 446.2 200.8 447.5 199.1 450.4 196.6 454.4 193.9 468.4 186.3 470.2 185.6 471.7 185.3 473.2 185.6 474.2 186.2 474.7 187.1 474.9 188.1 474.8 189.1 474.2 190.3 473.2 191.6 469.2 195.4 466.1 199.8 464.5 201.8 462.2 203.8 459.7 205.3 456.9 206.4 453.9 207.1Z" fill="#5a5a5a" fill-opacity="0.065" stroke="#888" stroke-width="0.45"/>
<path d="M467.9 179.1 463.9 179.0 456.9 177.7 453.9 177.4 442.7 177.5 441.4 177.2 441.2 177.1 441.0 176.6 441.5 176.1 442.7 175.7 451.7 175.1 455.9 174.4 458.7 173.4 464.9 170.5 473.7 167.6 475.9 167.4 476.9 167.6 477.7 168.1 478.3 169.1 479.6 172.6 479.4 173.8 478.7 175.1 476.9 176.5 474.4 177.7 471.4 178.5 467.9 179.1ZM453.4 205.8 451.4 205.8 449.7 205.6 448.4 205.0 447.6 204.1 447.3 203.1 447.5 201.8 448.1 200.6 449.4 199.1 453.2 196.0 457.9 193.2 469.2 188.1 470.7 187.8 471.7 188.1 472.1 188.8 471.7 190.1 468.1 194.1 464.9 199.3 463.0 201.6 460.9 203.2 458.7 204.5 456.2 205.4 453.4 205.8Z" fill="#5a5a5a" fill-opacity="0.065" stroke="#888" stroke-width="0.45"/>
<path d="M469.2 178.1 466.2 178.3 462.9 177.9 459.4 176.8 458.6 176.3 458.3 175.8 458.8 175.1 460.6 173.8 463.4 172.2 465.7 171.2 473.4 168.8 474.9 168.7 476.0 169.1 476.7 169.9 477.7 172.3 477.7 173.6 477.2 174.6 475.9 175.7 474.2 176.7 471.9 177.5 469.2 178.1ZM454.2 204.3 451.4 204.1 450.4 203.6 449.9 203.0 449.7 202.3 449.9 201.3 450.4 200.3 451.5 199.1 454.7 196.4 458.4 194.4 460.4 193.7 462.4 193.2 463.9 193.1 464.7 193.5 464.9 194.1 464.9 194.8 464.4 196.8 463.3 199.1 461.9 200.8 460.2 202.2 458.4 203.2 456.4 203.9 454.2 204.3Z" fill="#5a5a5a" fill-opacity="0.065" stroke="#888" stroke-width="0.45"/>
<path d="M468.4 177.3 465.9 177.4 463.8 177.1 462.1 176.3 461.6 175.8 461.5 175.3 462.2 174.3 463.6 173.3 465.4 172.3 467.4 171.6 472.7 170.5 473.9 170.6 474.9 171.3 475.5 172.1 475.8 173.1 475.6 174.1 475.0 174.8 473.9 175.6 472.4 176.3 468.4 177.3ZM456.4 202.4 454.4 202.5 453.7 202.3 453.0 201.8 452.8 200.8 453.6 199.3 455.6 197.6 457.9 196.3 459.9 195.8 460.9 195.8 461.4 196.1 461.8 196.6 461.9 197.6 461.5 198.6 460.9 199.6 458.9 201.3 456.4 202.4Z" fill="#5a5a5a" fill-opacity="0.065" stroke="#888" stroke-width="0.45"/>
<path d="M468.7 176.3 466.9 176.5 465.2 176.3 464.1 175.6 464.0 174.8 464.6 174.1 465.8 173.3 468.7 172.3 471.7 172.0 472.7 172.3 473.3 172.8 473.6 173.3 473.5 173.8 472.7 174.8 471.2 175.6 468.7 176.3Z" fill="#5a5a5a" fill-opacity="0.065" stroke="#888" stroke-width="0.45"/>
<path d="M468.4 175.1 467.2 175.2 466.6 174.8 466.9 174.3 468.1 173.8 469.2 173.7 469.9 173.9 470.1 174.1 469.7 174.6 468.4 175.1Z" fill="#5a5a5a" fill-opacity="0.065" stroke="#888" stroke-width="0.45"/>
<ellipse cx="470" cy="174.5" rx="9" ry="2.4" transform="rotate(-5 470 174.5)" fill="#777" fill-opacity="0.55" stroke="none" stroke-width="0.45" filter="url(#bl2)"/>
</g>
<rect x="425.7" y="151.8" width="63.69999999999999" height="60.79999999999998" fill="none" stroke="#bdbdbd" stroke-width="0.9"/>
<line x1="425.7" y1="151.8" x2="425.7" y2="212.6" stroke="#a5a5a5" stroke-width="0.9"/>
<line x1="425.7" y1="212.6" x2="489.4" y2="212.6" stroke="#b0b0b0" stroke-width="0.9"/>
<path d="M424.7 208.02H425.7M430.49 212.6V213.6M424.7 205.35H425.7M433.30 212.6V213.6M424.7 203.45H425.7M435.29 212.6V213.6M424.7 201.98H425.7M436.83 212.6V213.6M424.7 200.77H425.7M438.09 212.6V213.6M424.7 199.75H425.7M439.16 212.6V213.6M424.7 198.87H425.7M440.08 212.6V213.6M424.7 198.10H425.7M440.90 212.6V213.6M424.1 197.40H425.7M441.62 212.6V214.2M424.7 192.82H425.7M446.42 212.6V213.6M424.7 190.15H425.7M449.22 212.6V213.6M424.7 188.25H425.7M451.21 212.6V213.6M424.7 186.78H425.7M452.76 212.6V213.6M424.7 185.57H425.7M454.02 212.6V213.6M424.7 184.55H425.7M455.08 212.6V213.6M424.7 183.67H425.7M456.01 212.6V213.6M424.7 182.90H425.7M456.82 212.6V213.6M424.1 182.20H425.7M457.55 212.6V214.2M424.7 177.62H425.7M462.34 212.6V213.6M424.7 174.95H425.7M465.15 212.6V213.6M424.7 173.05H425.7M467.14 212.6V213.6M424.7 171.58H425.7M468.68 212.6V213.6M424.7 170.37H425.7M469.94 212.6V213.6M424.7 169.35H425.7M471.01 212.6V213.6M424.7 168.47H425.7M471.93 212.6V213.6M424.7 167.70H425.7M472.75 212.6V213.6M424.1 167.00H425.7M473.47 212.6V214.2M424.7 162.42H425.7M478.27 212.6V213.6M424.7 159.75H425.7M481.07 212.6V213.6M424.7 157.85H425.7M483.06 212.6V213.6M424.7 156.38H425.7M484.61 212.6V213.6M424.7 155.17H425.7M485.87 212.6V213.6M424.7 154.15H425.7M486.93 212.6V213.6M424.7 153.27H425.7M487.86 212.6V213.6M424.7 152.50H425.7M488.67 212.6V213.6" stroke="#9a9a9a" stroke-width="0.6"/>
<line x1="456.7" y1="151.8" x2="456.7" y2="212.6" stroke="#c4c4c4" stroke-width="0.9"/>
<line x1="425.7" y1="181.7" x2="489.4" y2="181.7" stroke="#c4c4c4" stroke-width="0.9"/>
<rect x="428.0" y="153.4" width="12.8" height="8.2" fill="#fff"/>
<rect x="471.5" y="153.4" width="17.2" height="8.2" fill="#fff"/>
<rect x="428.0" y="203.0" width="12.8" height="8.2" fill="#fff"/>
<rect x="471.5" y="203.0" width="17.2" height="8.2" fill="#fff"/>
<text x="428.8" y="160.0" font-size="7.8" font-weight="bold" text-anchor="start" fill="#231f20" stroke="#231f20" stroke-width="0.28" >8%</text>
<text x="487.9" y="160.0" font-size="7.8" font-weight="bold" text-anchor="end" fill="#231f20" stroke="#231f20" stroke-width="0.28" >55%</text>
<text x="428.8" y="209.6" font-size="7.8" font-weight="bold" text-anchor="start" fill="#231f20" stroke="#231f20" stroke-width="0.28" >8%</text>
<text x="487.9" y="209.6" font-size="7.8" font-weight="bold" text-anchor="end" fill="#231f20" stroke="#231f20" stroke-width="0.28" >29%</text>
<text x="493.8" y="55.1" font-size="6.85" font-weight="bold" text-anchor="start" fill="#231f20" stroke="#231f20" stroke-width="0.28" >BE(2)-C</text>
<text x="493.5" y="120.2" font-size="7.2" font-weight="bold" text-anchor="start" fill="#231f20" stroke="#231f20" stroke-width="0.28" >Kelly</text>
<text x="493.4" y="184.5" font-size="7.0" font-weight="bold" text-anchor="start" fill="#231f20" stroke="#231f20" stroke-width="0.28" >LAN-1</text>
<text x="349.2" y="199.8" font-size="6.6" font-weight="bold" text-anchor="end" fill="#222" stroke="#222" stroke-width="0.28" >10</text>
<text x="349.5" y="196.6" font-size="4.4" font-weight="bold" text-anchor="start" fill="#222" stroke="#222" stroke-width="0.28" >1</text>
<text x="365.5" y="221.8" font-size="6.6" font-weight="bold" text-anchor="start" fill="#222" stroke="#222" stroke-width="0.28" >10</text>
<text x="372.9" y="218.9" font-size="4.4" font-weight="bold" text-anchor="start" fill="#222" stroke="#222" stroke-width="0.28" >1</text>
<text x="349.2" y="184.5" font-size="6.6" font-weight="bold" text-anchor="end" fill="#222" stroke="#222" stroke-width="0.28" >10</text>
<text x="349.5" y="181.29999999999998" font-size="4.4" font-weight="bold" text-anchor="start" fill="#222" stroke="#222" stroke-width="0.28" >2</text>
<text x="381.40000000000003" y="221.8" font-size="6.6" font-weight="bold" text-anchor="start" fill="#222" stroke="#222" stroke-width="0.28" >10</text>
<text x="388.8" y="218.9" font-size="4.4" font-weight="bold" text-anchor="start" fill="#222" stroke="#222" stroke-width="0.28" >2</text>
<text x="349.2" y="169.20000000000002" font-size="6.6" font-weight="bold" text-anchor="end" fill="#222" stroke="#222" stroke-width="0.28" >10</text>
<text x="349.5" y="166.0" font-size="4.4" font-weight="bold" text-anchor="start" fill="#222" stroke="#222" stroke-width="0.28" >3</text>
<text x="397.3" y="221.8" font-size="6.6" font-weight="bold" text-anchor="start" fill="#222" stroke="#222" stroke-width="0.28" >10</text>
<text x="404.7" y="218.9" font-size="4.4" font-weight="bold" text-anchor="start" fill="#222" stroke="#222" stroke-width="0.28" >3</text>
<text x="349.2" y="153.9" font-size="6.6" font-weight="bold" text-anchor="end" fill="#222" stroke="#222" stroke-width="0.28" >10</text>
<text x="349.5" y="150.7" font-size="4.4" font-weight="bold" text-anchor="start" fill="#222" stroke="#222" stroke-width="0.28" >4</text>
<text x="413.2" y="221.8" font-size="6.6" font-weight="bold" text-anchor="start" fill="#222" stroke="#222" stroke-width="0.28" >10</text>
<text x="420.59999999999997" y="218.9" font-size="4.4" font-weight="bold" text-anchor="start" fill="#222" stroke="#222" stroke-width="0.28" >4</text>
<path d="M339.5 223.1 V202.5 M339.5 223.1 H359.5" stroke="#222" stroke-width="1" fill="none"/>
<path d="M339.5 199.8 L337.3 204.2 L341.7 204.2 Z" fill="#222"/>
<path d="M362.3 223.1 L357.9 220.9 L357.9 225.3 Z" fill="#222"/>
<text x="0" y="0" font-size="7.7" font-weight="bold" text-anchor="middle" fill="#231f20" stroke="#231f20" stroke-width="0.28" transform="translate(334.8,214.5) rotate(-90)">PI</text>
<text x="349.4" y="231.9" font-size="7.7" font-weight="bold" text-anchor="middle" fill="#231f20" stroke="#231f20" stroke-width="0.28" >AV</text>
</svg>
</body></html>
